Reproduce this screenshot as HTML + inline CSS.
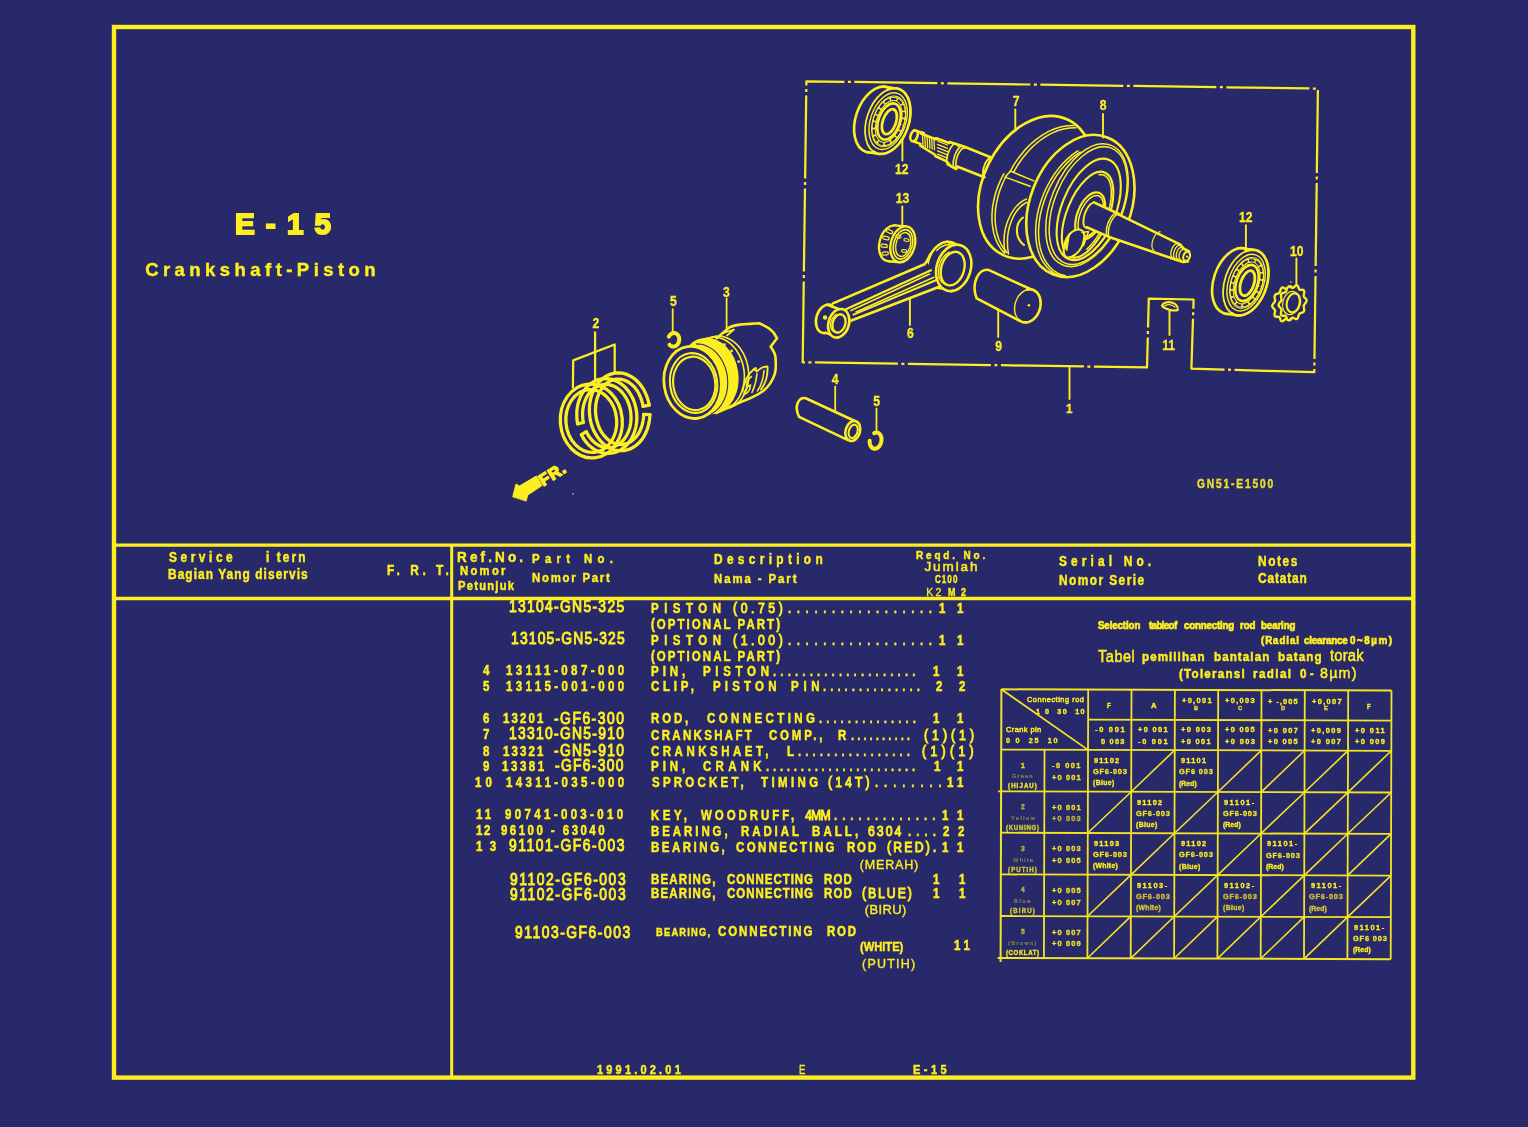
<!DOCTYPE html>
<html><head><meta charset="utf-8"><title>E-15 Crankshaft-Piston</title>
<style>
html,body{margin:0;padding:0;}
body{width:1528px;height:1127px;background:#28296a;position:relative;overflow:hidden;font-family:"Liberation Sans",sans-serif;color:#fdef1f;}
.t{position:absolute;white-space:pre;line-height:1;font-weight:bold;transform-origin:0 0;color:#fdef1f;}
svg{position:absolute;left:0;top:0;}
#wrap{position:absolute;left:0;top:0;width:1528px;height:1127px;background:#28296a;filter:blur(0.45px);}
</style></head><body>
<div id="wrap">
<svg width="1528" height="1127" viewBox="0 0 1528 1127" fill="none" stroke="#fdef1f" stroke-linecap="round" stroke-linejoin="round">
<g id="frame" stroke-linecap="butt" stroke-linejoin="miter">
<rect x="114" y="27" width="1299.3" height="1050.6" stroke-width="4.4"/>
<line x1="114" y1="545.1" x2="1413" y2="545.1" stroke-width="3.2"/>
<line x1="114" y1="598.5" x2="1413" y2="598.5" stroke-width="3.4"/>
<line x1="451.7" y1="545" x2="451.7" y2="1077" stroke-width="3"/>
</g>
<g id="seltable" transform="rotate(0.17 1196 824)" opacity="0.95" stroke-linecap="butt"><line x1="1001" y1="689.9" x2="1001" y2="962.6" stroke-width="2.0"/><line x1="1044.3" y1="750.2" x2="1044.3" y2="958.6" stroke-width="1.8"/><line x1="1087.8" y1="689.9" x2="1087.8" y2="958.6" stroke-width="1.8"/><line x1="1131.1" y1="689.9" x2="1131.1" y2="958.6" stroke-width="1.8"/><line x1="1174.5" y1="689.9" x2="1174.5" y2="958.6" stroke-width="1.8"/><line x1="1217.8" y1="689.9" x2="1217.8" y2="958.6" stroke-width="1.8"/><line x1="1261.1" y1="689.9" x2="1261.1" y2="958.6" stroke-width="1.8"/><line x1="1304.4" y1="689.9" x2="1304.4" y2="958.6" stroke-width="1.8"/><line x1="1347.8" y1="689.9" x2="1347.8" y2="958.6" stroke-width="1.8"/><line x1="1391.1" y1="689.9" x2="1391.1" y2="958.6" stroke-width="1.8"/><line x1="1001" y1="689.9" x2="1391.1" y2="689.9" stroke-width="2.0"/><line x1="1087.8" y1="720.0" x2="1391.1" y2="720.0" stroke-width="1.8"/><line x1="1001" y1="750.2" x2="1391.1" y2="750.2" stroke-width="1.8"/><line x1="998" y1="791.9" x2="1391.1" y2="791.9" stroke-width="1.8"/><line x1="1001" y1="833.3" x2="1391.1" y2="833.3" stroke-width="1.8"/><line x1="1001" y1="875.0" x2="1391.1" y2="875.0" stroke-width="1.8"/><line x1="1001" y1="916.6" x2="1391.1" y2="916.6" stroke-width="1.8"/><line x1="998" y1="958.6" x2="1391.1" y2="958.6" stroke-width="2.0"/><line x1="1001" y1="689.9" x2="1087.8" y2="750.2" stroke-width="1.8"/><line x1="1131.1" y1="791.9" x2="1174.5" y2="750.2" stroke-width="1.6"/><line x1="1217.8" y1="791.9" x2="1261.1" y2="750.2" stroke-width="1.6"/><line x1="1261.1" y1="791.9" x2="1304.4" y2="750.2" stroke-width="1.6"/><line x1="1304.4" y1="791.9" x2="1347.8" y2="750.2" stroke-width="1.6"/><line x1="1347.8" y1="791.9" x2="1391.1" y2="750.2" stroke-width="1.6"/><line x1="1087.8" y1="833.3" x2="1131.1" y2="791.9" stroke-width="1.6"/><line x1="1174.5" y1="833.3" x2="1217.8" y2="791.9" stroke-width="1.6"/><line x1="1261.1" y1="833.3" x2="1304.4" y2="791.9" stroke-width="1.6"/><line x1="1304.4" y1="833.3" x2="1347.8" y2="791.9" stroke-width="1.6"/><line x1="1347.8" y1="833.3" x2="1391.1" y2="791.9" stroke-width="1.6"/><line x1="1131.1" y1="875.0" x2="1174.5" y2="833.3" stroke-width="1.6"/><line x1="1217.8" y1="875.0" x2="1261.1" y2="833.3" stroke-width="1.6"/><line x1="1304.4" y1="875.0" x2="1347.8" y2="833.3" stroke-width="1.6"/><line x1="1347.8" y1="875.0" x2="1391.1" y2="833.3" stroke-width="1.6"/><line x1="1087.8" y1="916.6" x2="1131.1" y2="875.0" stroke-width="1.6"/><line x1="1174.5" y1="916.6" x2="1217.8" y2="875.0" stroke-width="1.6"/><line x1="1261.1" y1="916.6" x2="1304.4" y2="875.0" stroke-width="1.6"/><line x1="1347.8" y1="916.6" x2="1391.1" y2="875.0" stroke-width="1.6"/><line x1="1087.8" y1="958.6" x2="1131.1" y2="916.6" stroke-width="1.6"/><line x1="1131.1" y1="958.6" x2="1174.5" y2="916.6" stroke-width="1.6"/><line x1="1174.5" y1="958.6" x2="1217.8" y2="916.6" stroke-width="1.6"/><line x1="1217.8" y1="958.6" x2="1261.1" y2="916.6" stroke-width="1.6"/><line x1="1261.1" y1="958.6" x2="1304.4" y2="916.6" stroke-width="1.6"/><line x1="1304.4" y1="958.6" x2="1347.8" y2="916.6" stroke-width="1.6"/></g>
<g id="drawing"><path d="M914.0 130.3 L924.0 133.2 L922.0 132.6 L920.5 133.4 L935.9 139.2 L936.2 138.3 L949.2 143.0 L949.6 142.0 L963.9 146.5 L991.8 157.8 L982.5 176.5 L957.2 166.5 L956.2 169.0 L950.6 166.2 L946.6 161.4 L935.3 156.0 L934.6 154.5 L920.0 145.4 L920.4 143.9 L914.0 141.5Z" stroke-width="2.60" fill="#28296a"/>
<ellipse cx="914.0" cy="135.9" rx="3.4" ry="5.6" transform="rotate(19.4 914.0 135.9)" stroke-width="2.60" fill="#28296a"/>
<path d="M922.5 134.6 L923.0 146.1" stroke-width="1.30"/>
<path d="M924.8 135.5 L925.3 146.8" stroke-width="1.30"/>
<path d="M927.1 136.5 L927.6 147.6" stroke-width="1.30"/>
<path d="M929.4 137.4 L929.9 148.3" stroke-width="1.30"/>
<path d="M931.7 138.4 L932.2 149.1" stroke-width="1.30"/>
<path d="M934.0 139.3 L934.5 149.8" stroke-width="1.30"/>
<path d="M937.5 141.0 L947.5 145.0" stroke-width="1.30"/>
<path d="M937.5 144.3 L947.5 148.3" stroke-width="1.30"/>
<path d="M937.5 147.6 L947.5 151.6" stroke-width="1.30"/>
<path d="M937.5 150.9 L947.5 154.9" stroke-width="1.30"/>
<path d="M937.5 154.2 L947.5 158.2" stroke-width="1.30"/>
<path d="M948.2 165.3 L947.8 165.1 L947.5 164.8 L947.2 164.4 L947.0 163.9 L946.8 163.2 L946.7 162.5 L946.6 161.7 L946.6 160.8 L946.7 159.8 L946.8 158.8 L947.0 157.7 L947.2 156.6 L947.5 155.5 L947.8 154.3 L948.2 153.2 L948.6 152.0 L949.1 150.9 L949.6 149.9 L950.1 148.9 L950.6 147.9 L951.2 147.0 L951.8 146.3 L952.3 145.6 L952.9 144.9 L953.4 144.4 L954.0 144.1 L954.5 143.8 L955.0 143.6 L955.4 143.6 L955.8 143.7" stroke-width="1.65"/>
<path d="M954.8 167.6 L954.4 167.4 L954.1 167.1 L953.8 166.6 L953.6 166.1 L953.4 165.5 L953.3 164.8 L953.2 164.0 L953.2 163.1 L953.3 162.1 L953.4 161.1 L953.5 160.1 L953.8 159.0 L954.0 157.9 L954.4 156.8 L954.7 155.7 L955.1 154.6 L955.6 153.5 L956.1 152.5 L956.6 151.5 L957.1 150.6 L957.6 149.7 L958.2 148.9 L958.7 148.3 L959.3 147.7 L959.8 147.2 L960.4 146.8 L960.9 146.5 L961.4 146.4 L961.8 146.4 L962.2 146.4" stroke-width="1.65"/>
<path d="M957.5 167.8 L957.2 167.6 L956.8 167.3 L956.5 166.9 L956.3 166.4 L956.1 165.8 L956.0 165.2 L955.9 164.4 L955.9 163.6 L955.9 162.7 L956.0 161.8 L956.1 160.8 L956.3 159.8 L956.6 158.7 L956.9 157.7 L957.2 156.7 L957.6 155.7 L958.0 154.7 L958.5 153.7 L959.0 152.8 L959.5 151.9 L960.0 151.2 L960.5 150.4 L961.0 149.8 L961.6 149.3 L962.1 148.8 L962.6 148.5 L963.1 148.3 L963.6 148.1 L964.0 148.1 L964.5 148.2" stroke-width="1.65"/>
<circle cx="958" cy="146.3" r="0.9" fill="#fdef1f" stroke="none"/>
<ellipse cx="1035.4" cy="187.3" rx="52.3" ry="75.0" transform="rotate(25.8 1035.4 187.3)" stroke-width="2.60" fill="#28296a"/>
<path d="M985.0 177.4 L984.6 177.2 L984.2 176.9 L983.9 176.5 L983.6 175.9 L983.4 175.3 L983.2 174.6 L983.1 173.9 L983.0 173.0 L983.0 172.1 L983.1 171.2 L983.2 170.2 L983.4 169.1 L983.6 168.1 L983.9 167.0 L984.3 166.0 L984.6 165.0 L985.1 164.0 L985.5 163.0 L986.0 162.1 L986.6 161.3 L987.1 160.5 L987.7 159.8 L988.3 159.1 L988.8 158.6 L989.4 158.2 L990.0 157.8 L990.5 157.6 L991.0 157.5 L991.5 157.5 L992.0 157.6" stroke-width="1.89"/>
<path d="M1010.0 171.9 L1014.1 164.4 L1018.9 157.4 L1024.1 150.9 L1029.7 145.0 L1035.7 139.8 L1041.9 135.3 L1048.3 131.6 L1054.8 128.7 L1061.3 126.7 L1067.8 125.7 L1074.1 125.6" stroke-width="1.53"/>
<path d="M1013.4 172.5 L1017.6 165.3 L1022.2 158.5 L1027.4 152.2 L1032.8 146.5 L1038.7 141.5 L1044.7 137.2 L1050.9 133.6 L1057.3 130.8 L1063.6 128.9 L1069.8 127.9 L1075.9 127.8" stroke-width="1.53"/>
<path d="M1010.5 171.1 L1033.9 180.9" stroke-width="1.53"/>
<path d="M1010.5 171.1 L1005.2 177.1 L1030.1 186.2" stroke-width="1.53"/>
<path d="M1004.4 253.2 L1001.0 249.1 L998.1 244.4 L995.7 239.2 L993.9 233.5 L992.7 227.5 L992.0 221.1 L992.0 214.4 L992.5 207.6 L993.7 200.7 L995.4 193.8 L997.7 186.9 L1000.5 180.2 L1003.8 173.8" stroke-width="1.53"/>
<path d="M1007.2 252.8 L1004.0 248.8 L1001.1 244.3 L998.8 239.3 L997.1 233.8 L995.9 227.9 L995.2 221.7 L995.1 215.3 L995.6 208.7 L996.7 202.0 L998.3 195.3 L1000.5 188.6 L1003.2 182.0 L1006.3 175.7" stroke-width="1.53"/>
<path d="M1026.5 199.0 C1012 205 1000.5 228 1005 252.5" stroke-width="1.53"/>
<path d="M1027 202.3 C1014.5 208 1004 229 1008.5 254" stroke-width="1.53"/>
<path d="M1023 217.5 C1015 223 1014.5 238 1024 245" stroke-width="2.12"/>
<ellipse cx="1080.4" cy="206.0" rx="50.3" ry="73.7" transform="rotate(21.5 1080.4 206.0)" stroke-width="2.60" fill="#28296a"/>
<path d="M1063.3 276.6 L1058.8 275.3 L1054.5 273.4 L1050.6 270.7 L1047.0 267.3 L1043.9 263.3 L1041.2 258.7 L1039.1 253.5 L1037.4 247.9 L1036.3 241.8 L1035.7 235.4 L1035.7 228.7 L1036.2 221.8 L1037.3 214.8 L1038.9 207.7 L1041.1 200.7 L1043.7 193.7 L1046.8 187.0 L1050.3 180.5 L1054.2 174.3 L1058.5 168.6 L1063.0 163.3 L1067.8 158.6 L1072.8 154.4 L1077.9 150.9" stroke-width="1.53"/>
<path d="M1065.4 275.8 L1061.0 274.6 L1056.8 272.7 L1053.0 270.0 L1049.5 266.7 L1046.5 262.8 L1043.9 258.3 L1041.8 253.2 L1040.2 247.7 L1039.1 241.7 L1038.6 235.4 L1038.6 228.8 L1039.2 222.0 L1040.2 215.1 L1041.9 208.1 L1044.0 201.2 L1046.6 194.4 L1049.6 187.7 L1053.1 181.3 L1056.9 175.2 L1061.1 169.6 L1065.6 164.4 L1070.3 159.7 L1075.1 155.6 L1080.2 152.1" stroke-width="1.53"/>
<ellipse cx="1087.0" cy="205.2" rx="36.0" ry="64.5" transform="rotate(22 1087.0 205.2)" stroke-width="1.53"/>
<ellipse cx="1088.2" cy="205.6" rx="33.8" ry="62.0" transform="rotate(22 1088.2 205.6)" stroke-width="1.53"/>
<ellipse cx="1088.7" cy="209.4" rx="27.0" ry="53.5" transform="rotate(22 1088.7 209.4)" stroke-width="2.12"/>
<ellipse cx="1087.6" cy="214.6" rx="20.8" ry="45.5" transform="rotate(22 1087.6 214.6)" stroke-width="2.12"/>
<path d="M1099.0 174.8 L1101.1 174.6 L1103.1 174.9 L1105.0 175.7 L1106.6 176.9 L1108.0 178.6 L1109.2 180.7 L1110.1 183.2 L1110.8 186.1 L1111.2 189.3 L1111.3 192.8 L1111.2 196.5 L1110.8 200.5 L1110.1 204.6 L1109.2 208.8 L1108.0 213.1 L1106.6 217.5 L1104.9 221.8 L1103.1 226.0 L1101.1 230.1 L1098.9 233.9 L1096.7 237.6 L1094.3 241.0 L1091.8 244.1 L1089.3 246.8 L1086.8 249.2" stroke-width="1.53"/>
<ellipse cx="1090.2" cy="215.7" rx="13.0" ry="24.5" transform="rotate(21 1090.2 215.7)" stroke-width="2.12"/>
<ellipse cx="1090.8" cy="215.9" rx="10.8" ry="21.5" transform="rotate(21 1090.8 215.9)" stroke-width="1.53"/>
<path d="M1064.2 246 C1066 235 1073.5 229 1079.5 229.5 C1085 230.5 1085.5 237 1082.5 245 C1079.5 253 1071 258.5 1067 257.5 C1063.5 256 1063.5 250 1064.2 246Z" stroke-width="2.12" fill="#28296a"/>
<path d="M1082 232.5 L1088.5 231.5 L1083.5 245.5" stroke-width="1.53"/>
<path d="M1064.6 246 L1069.5 233.5 L1066.8 250.5Z" stroke-width="1.18" fill="#fdef1f"/>
<path d="M1093.9 202.4 L1119.4 214.2 L1180.5 244.7 L1183.5 248.5 L1189.0 251.5 L1191.0 257.0 L1188.0 261.5 L1183.0 262.0 L1176.0 259.8 L1171.7 258.3 L1110.6 237.6 L1086.8 227.3" stroke-width="0.00" fill="#28296a"/>
<ellipse cx="1090.2" cy="215.2" rx="5.6" ry="13.2" transform="rotate(19.4 1090.2 215.2)" stroke-width="1.89" fill="#28296a"/>
<path d="M1093.9 202.4 L1119.4 214.2 L1110.6 237.6 L1086.8 227.3" stroke-width="0.00" fill="#28296a"/>
<path d="M1093.9 202.4 L1119.4 214.2" stroke-width="2.60"/>
<path d="M1086.8 227.3 L1110.6 237.6" stroke-width="2.60"/>
<path d="M1119.4 214.8 L1180.5 244.7 L1183.5 248.5 L1189.0 251.5" stroke-width="2.60"/>
<path d="M1110.6 237.6 L1171.7 258.3 L1176.0 259.8 L1183.0 262.0 L1188.0 261.5" stroke-width="2.60"/>
<path d="M1110.5 237.9 L1110.0 237.7 L1109.6 237.3 L1109.3 236.8 L1108.9 236.2 L1108.7 235.5 L1108.5 234.7 L1108.4 233.8 L1108.4 232.8 L1108.4 231.8 L1108.5 230.7 L1108.6 229.5 L1108.9 228.3 L1109.1 227.1 L1109.5 225.9 L1109.9 224.6 L1110.3 223.4 L1110.8 222.3 L1111.4 221.1 L1112.0 220.1 L1112.6 219.1 L1113.2 218.1 L1113.8 217.3 L1114.5 216.6 L1115.1 215.9 L1115.8 215.4 L1116.4 215.0 L1117.0 214.8 L1117.6 214.6 L1118.2 214.6 L1118.7 214.7" stroke-width="1.53"/>
<path d="M1108.5 236.9 L1108.0 236.7 L1107.6 236.3 L1107.3 235.8 L1106.9 235.2 L1106.7 234.5 L1106.5 233.7 L1106.4 232.8 L1106.4 231.8 L1106.4 230.8 L1106.5 229.7 L1106.6 228.5 L1106.9 227.3 L1107.1 226.1 L1107.5 224.9 L1107.9 223.6 L1108.3 222.4 L1108.8 221.3 L1109.4 220.1 L1110.0 219.1 L1110.6 218.1 L1111.2 217.1 L1111.8 216.3 L1112.5 215.6 L1113.1 214.9 L1113.8 214.4 L1114.4 214.0 L1115.0 213.8 L1115.6 213.6 L1116.2 213.6 L1116.7 213.7" stroke-width="1.53"/>
<path d="M1153.8 250.1 L1153.4 249.9 L1153.1 249.6 L1152.7 249.2 L1152.5 248.7 L1152.3 248.1 L1152.1 247.5 L1152.0 246.8 L1151.9 246.0 L1151.9 245.2 L1152.0 244.3 L1152.1 243.4 L1152.2 242.5 L1152.5 241.5 L1152.7 240.6 L1153.0 239.6 L1153.4 238.7 L1153.8 237.8 L1154.2 236.9 L1154.7 236.0 L1155.2 235.3 L1155.7 234.5 L1156.2 233.9 L1156.7 233.3 L1157.3 232.9 L1157.8 232.5 L1158.3 232.2 L1158.8 232.0 L1159.3 231.9 L1159.8 231.8 L1160.2 231.9" stroke-width="1.18"/>
<path d="M1172.1 257.4 L1171.8 257.2 L1171.6 257.0 L1171.4 256.8 L1171.2 256.4 L1171.0 256.0 L1170.9 255.5 L1170.8 255.0 L1170.8 254.4 L1170.8 253.8 L1170.9 253.1 L1170.9 252.5 L1171.1 251.8 L1171.2 251.0 L1171.4 250.3 L1171.7 249.6 L1171.9 248.9 L1172.2 248.2 L1172.5 247.6 L1172.9 246.9 L1173.2 246.3 L1173.6 245.8 L1174.0 245.3 L1174.4 244.9 L1174.8 244.5 L1175.2 244.2 L1175.5 244.0 L1175.9 243.8 L1176.3 243.8 L1176.6 243.7 L1176.9 243.8" stroke-width="1.30"/>
<path d="M1174.9 258.1 L1174.6 258.0 L1174.4 257.8 L1174.1 257.5 L1173.9 257.2 L1173.8 256.8 L1173.7 256.4 L1173.6 255.9 L1173.5 255.3 L1173.5 254.8 L1173.6 254.1 L1173.6 253.5 L1173.7 252.9 L1173.9 252.2 L1174.1 251.6 L1174.3 250.9 L1174.5 250.3 L1174.8 249.6 L1175.1 249.0 L1175.4 248.5 L1175.7 247.9 L1176.1 247.4 L1176.5 247.0 L1176.8 246.6 L1177.2 246.3 L1177.6 246.0 L1178.0 245.8 L1178.3 245.7 L1178.7 245.6 L1179.0 245.6 L1179.3 245.7" stroke-width="1.30"/>
<path d="M1177.7 258.9 L1177.4 258.7 L1177.2 258.5 L1176.9 258.3 L1176.7 258.0 L1176.6 257.6 L1176.4 257.2 L1176.3 256.7 L1176.3 256.2 L1176.2 255.7 L1176.3 255.2 L1176.3 254.6 L1176.4 254.0 L1176.5 253.4 L1176.7 252.8 L1176.9 252.2 L1177.1 251.6 L1177.3 251.0 L1177.6 250.5 L1177.9 250.0 L1178.2 249.5 L1178.6 249.1 L1178.9 248.7 L1179.3 248.3 L1179.6 248.0 L1180.0 247.8 L1180.4 247.6 L1180.7 247.5 L1181.1 247.5 L1181.4 247.5 L1181.7 247.5" stroke-width="1.30"/>
<path d="M1180.5 259.6 L1180.2 259.5 L1180.0 259.3 L1179.7 259.0 L1179.5 258.7 L1179.3 258.4 L1179.2 258.0 L1179.1 257.6 L1179.0 257.2 L1179.0 256.7 L1179.0 256.2 L1179.0 255.7 L1179.1 255.1 L1179.2 254.6 L1179.3 254.0 L1179.5 253.5 L1179.7 253.0 L1179.9 252.5 L1180.2 252.0 L1180.4 251.5 L1180.7 251.1 L1181.1 250.7 L1181.4 250.4 L1181.7 250.0 L1182.1 249.8 L1182.4 249.6 L1182.8 249.4 L1183.1 249.3 L1183.5 249.3 L1183.8 249.3 L1184.1 249.4" stroke-width="1.30"/>
<ellipse cx="1186.6" cy="256.3" rx="3.2" ry="4.8" transform="rotate(19.4 1186.6 256.3)" stroke-width="2.12"/>
<circle cx="1187" cy="256.6" r="1.1" fill="#fdef1f" stroke="none"/>
<path d="M1015.3 109.5 L1015.3 128.5" stroke-width="1.89"/>
<path d="M1103.0 114.0 L1103.0 137.5" stroke-width="1.89"/>
<g transform="translate(1016,106) scale(0.88,1)"><text x="0" y="0" font-size="13.8" text-anchor="middle" font-family="Liberation Sans, sans-serif" font-weight="bold" fill="#fdef1f" stroke="#fdef1f" stroke-width="0.3">7</text></g>
<g transform="translate(1103,109.5) scale(0.88,1)"><text x="0" y="0" font-size="13.8" text-anchor="middle" font-family="Liberation Sans, sans-serif" font-weight="bold" fill="#fdef1f" stroke="#fdef1f" stroke-width="0.3">8</text></g>
<path d="M806.4 81.3 L1317.9 88.6 L1314.3 372.2 L1191.4 368.6 L1193.6 299.5 L1148.8 298.6 L1147.0 367.4 L802.7 362.3 Z" stroke-width="2.24" stroke-dasharray="83 3.5 3 3.5" stroke-linecap="butt" stroke-dashoffset="45"/>
<path d="M1069.5 367.8 L1069.5 399.0" stroke-width="1.89"/>
<g transform="translate(1069.3,412.6) scale(0.88,1)"><text x="0" y="0" font-size="13.4" text-anchor="middle" font-family="Liberation Sans, sans-serif" font-weight="bold" fill="#fdef1f" stroke="#fdef1f" stroke-width="0.3">1</text></g>
<ellipse cx="876.8" cy="119.5" rx="21.0" ry="34.0" transform="rotate(19 876.8 119.5)" stroke-width="2.60" fill="#28296a"/>
<path d="M883.5 86.6 L894.5 88.2 L879.6 153.9 L868.6 152.3Z" stroke-width="0.00" fill="#28296a"/>
<path d="M883.5 86.6 L894.5 88.2" stroke-width="2.60"/>
<path d="M868.6 152.3 L879.6 153.9" stroke-width="2.60"/>
<ellipse cx="887.8" cy="121.1" rx="21.0" ry="34.0" transform="rotate(19 887.8 121.1)" stroke-width="1.77" fill="#28296a"/>
<path d="M887.5 89.8 L889.9 88.9 L892.3 88.4 L894.6 88.2 L896.9 88.4 L899.1 89.0 L901.1 90.0 L903.0 91.3 L904.7 92.9 L906.2 94.9 L907.5 97.1 L908.6 99.6 L909.5 102.4 L910.1 105.4 L910.4 108.6 L910.5 111.9 L910.4 115.3 L909.9 118.7 L909.3 122.3 L908.4 125.7 L907.2 129.2 L905.8 132.5 L904.3 135.7 L902.5 138.8 L900.6 141.6 L898.5 144.3 L896.3 146.6 L894.0 148.7 L891.6 150.4 L889.2 151.8 L886.8 152.9 L884.4 153.6 L882.0 153.9 L879.7 153.9 L877.5 153.5 L875.4 152.7 L873.5 151.6" stroke-width="2.60"/>
<ellipse cx="888.1" cy="121.1" rx="17.6" ry="29.3" transform="rotate(19 888.1 121.1)" stroke-width="1.42"/>
<ellipse cx="888.7" cy="121.4" rx="13.7" ry="23.4" transform="rotate(19 888.7 121.4)" stroke-width="4.25"/>
<ellipse cx="888.7" cy="121.4" rx="13.7" ry="23.4" transform="rotate(19 888.7 121.4)" stroke="#28296a" stroke-width="2.36" stroke-dasharray="3.4 3.6"/>
<ellipse cx="888.7" cy="121.4" rx="15.6" ry="26.3" transform="rotate(19 888.7 121.4)" stroke-width="1.06"/>
<ellipse cx="889.0" cy="121.5" rx="10.6" ry="18.8" transform="rotate(19 889.0 121.5)" stroke-width="2.60"/>
<ellipse cx="889.4" cy="121.7" rx="6.6" ry="13.0" transform="rotate(19 889.4 121.7)" stroke-width="2.83"/>
<path d="M902.4 138.5 L902.4 160.5" stroke-width="1.89"/>
<g transform="translate(901.8,173.8) scale(0.88,1)"><text x="0" y="0" font-size="13.8" text-anchor="middle" font-family="Liberation Sans, sans-serif" font-weight="bold" fill="#fdef1f" stroke="#fdef1f" stroke-width="0.3">12</text></g>
<ellipse cx="1234.8" cy="281.0" rx="21.0" ry="34.0" transform="rotate(19 1234.8 281.0)" stroke-width="2.60" fill="#28296a"/>
<path d="M1241.5 248.1 L1252.5 249.7 L1237.6 315.4 L1226.6 313.8Z" stroke-width="0.00" fill="#28296a"/>
<path d="M1241.5 248.1 L1252.5 249.7" stroke-width="2.60"/>
<path d="M1226.6 313.8 L1237.6 315.4" stroke-width="2.60"/>
<ellipse cx="1245.8" cy="282.6" rx="21.0" ry="34.0" transform="rotate(19 1245.8 282.6)" stroke-width="1.77" fill="#28296a"/>
<path d="M1245.5 251.3 L1247.9 250.4 L1250.3 249.9 L1252.6 249.7 L1254.9 249.9 L1257.1 250.5 L1259.1 251.5 L1261.0 252.8 L1262.7 254.4 L1264.2 256.4 L1265.5 258.6 L1266.6 261.1 L1267.5 263.9 L1268.1 266.9 L1268.4 270.1 L1268.5 273.4 L1268.4 276.8 L1267.9 280.2 L1267.3 283.8 L1266.4 287.2 L1265.2 290.7 L1263.8 294.0 L1262.3 297.2 L1260.5 300.3 L1258.6 303.1 L1256.5 305.8 L1254.3 308.1 L1252.0 310.2 L1249.6 311.9 L1247.2 313.3 L1244.8 314.4 L1242.4 315.1 L1240.0 315.4 L1237.7 315.4 L1235.5 315.0 L1233.4 314.2 L1231.5 313.1" stroke-width="2.60"/>
<ellipse cx="1246.1" cy="282.6" rx="17.6" ry="29.3" transform="rotate(19 1246.1 282.6)" stroke-width="1.42"/>
<ellipse cx="1246.7" cy="282.9" rx="13.7" ry="23.4" transform="rotate(19 1246.7 282.9)" stroke-width="4.25"/>
<ellipse cx="1246.7" cy="282.9" rx="13.7" ry="23.4" transform="rotate(19 1246.7 282.9)" stroke="#28296a" stroke-width="2.36" stroke-dasharray="3.4 3.6"/>
<ellipse cx="1246.7" cy="282.9" rx="15.6" ry="26.3" transform="rotate(19 1246.7 282.9)" stroke-width="1.06"/>
<ellipse cx="1247.0" cy="283.0" rx="10.6" ry="18.8" transform="rotate(19 1247.0 283.0)" stroke-width="2.60"/>
<ellipse cx="1247.4" cy="283.2" rx="6.6" ry="13.0" transform="rotate(19 1247.4 283.2)" stroke-width="2.83"/>
<path d="M1245.9 225.3 L1245.9 249.0" stroke-width="1.89"/>
<g transform="translate(1245.8,221.9) scale(0.88,1)"><text x="0" y="0" font-size="13.8" text-anchor="middle" font-family="Liberation Sans, sans-serif" font-weight="bold" fill="#fdef1f" stroke="#fdef1f" stroke-width="0.3">12</text></g>
<ellipse cx="891.5" cy="243.3" rx="12.0" ry="18.3" transform="rotate(15 891.5 243.3)" stroke-width="2.36" fill="#28296a"/>
<path d="M894.2 225.4 L905.5 226.4 L900.1 262.2 L888.8 261.2Z" stroke-width="0.00" fill="#28296a"/>
<path d="M894.2 225.4 L905.5 226.4" stroke-width="2.36"/>
<path d="M888.8 261.2 L900.1 262.2" stroke-width="2.36"/>
<ellipse cx="902.8" cy="244.3" rx="12.0" ry="18.3" transform="rotate(15 902.8 244.3)" stroke-width="2.36" fill="#28296a"/>
<ellipse cx="903.0" cy="244.4" rx="9.3" ry="15.0" transform="rotate(15 903.0 244.4)" stroke-width="1.65"/>
<ellipse cx="903.2" cy="244.5" rx="7.2" ry="12.2" transform="rotate(15 903.2 244.5)" stroke-width="1.42"/>
<rect x="886.3" y="230.0" width="6.4" height="3" rx="1.5" transform="rotate(22 889.5 231.5)" stroke-width="1.3" fill="#28296a"/>
<rect x="882.8" y="236.5" width="6.4" height="3" rx="1.5" transform="rotate(14 886.0 238.0)" stroke-width="1.3" fill="#28296a"/>
<rect x="881.0" y="244.3" width="6.4" height="3" rx="1.5" transform="rotate(6 884.2 245.8)" stroke-width="1.3" fill="#28296a"/>
<rect x="882.0" y="252.0" width="6.4" height="3" rx="1.5" transform="rotate(-6 885.2 253.5)" stroke-width="1.3" fill="#28296a"/>
<rect x="903.9" y="238.7" width="5.2" height="2.6" rx="1.3" transform="rotate(10 906.5 240.0)" stroke-width="1.1"/>
<rect x="901.6" y="249.7" width="5.2" height="2.6" rx="1.3" transform="rotate(4 904.2 251.0)" stroke-width="1.1"/>
<rect x="895.9" y="235.2" width="5.2" height="2.6" rx="1.3" transform="rotate(20 898.5 236.5)" stroke-width="1.1"/>
<path d="M902.3 206.4 L902.3 225.5" stroke-width="1.89"/>
<g transform="translate(902.4,202.6) scale(0.88,1)"><text x="0" y="0" font-size="13.8" text-anchor="middle" font-family="Liberation Sans, sans-serif" font-weight="bold" fill="#fdef1f" stroke="#fdef1f" stroke-width="0.3">13</text></g>
<ellipse cx="944.7" cy="265.0" rx="17.0" ry="23.7" transform="rotate(17 944.7 265.0)" stroke-width="2.60" fill="#28296a"/>
<ellipse cx="826.5" cy="318.8" rx="10.2" ry="14.6" transform="rotate(17 826.5 318.8)" stroke-width="2.60" fill="#28296a"/>
<path d="M927.5 262.5 L832.5 303.2 L842.0 334.0 L849.5 321.5 L938.5 286.0Z" stroke-width="0.00" fill="#28296a"/>
<path d="M930.5 254 C928 259 927 262 924.5 264.2 L833 303.4" stroke-width="2.60"/>
<path d="M940 286.5 L849.5 321.3" stroke-width="2.60"/>
<path d="M931 270.3 L846 309.3" stroke-width="2.24"/>
<path d="M936.5 280.0 L853.5 314.6" stroke-width="2.01"/>
<path d="M929.5 274.0 L851 310.6" stroke-width="1.65"/>
<path d="M934 277.2 L856 312.0" stroke-width="1.53"/>
<path d="M947.2 241.8 L956.2 244.7 L951.2 291.1 L942.2 288.2Z" stroke-width="0.00" fill="#28296a"/>
<path d="M947.2 241.8 L956.2 244.7" stroke-width="2.60"/>
<path d="M942.2 288.2 L951.2 291.1" stroke-width="2.60"/>
<ellipse cx="953.7" cy="267.9" rx="17.0" ry="23.7" transform="rotate(17 953.7 267.9)" stroke-width="2.60" fill="#28296a"/>
<ellipse cx="952.7" cy="268.6" rx="11.4" ry="17.2" transform="rotate(17 952.7 268.6)" stroke-width="2.36"/>
<path d="M944.5 284.1 L943.5 283.5 L942.5 282.7 L941.6 281.8 L940.8 280.7 L940.1 279.5 L939.5 278.2 L939.1 276.7 L938.8 275.1 L938.6 273.5 L938.5 271.8 L938.6 270.1 L938.8 268.3 L939.1 266.5 L939.6 264.8 L940.1 263.1 L940.8 261.4 L941.6 259.8 L942.5 258.3 L943.5 256.9 L944.6 255.7 L945.7 254.5 L946.9 253.6 L948.2 252.7 L949.4 252.1" stroke-width="1.42"/>
<path d="M936.8 250.5 C941 246 946 244.5 950 244.8" stroke-width="1.42"/>
<circle cx="937.6" cy="278.2" r="1.1" fill="#fdef1f" stroke="none"/>
<path d="M827.2 304.7 L839.4 309.2 L838.0 337.4 L825.8 332.9Z" stroke-width="0.00" fill="#28296a"/>
<path d="M827.2 304.7 L839.4 309.2" stroke-width="2.60"/>
<path d="M825.8 332.9 L838.0 337.4" stroke-width="2.60"/>
<ellipse cx="838.7" cy="323.3" rx="10.2" ry="14.6" transform="rotate(17 838.7 323.3)" stroke-width="2.60" fill="#28296a"/>
<ellipse cx="839.0" cy="323.5" rx="6.3" ry="9.4" transform="rotate(17 839.0 323.5)" stroke-width="2.36"/>
<path d="M833.4 331.5 L832.9 331.1 L832.4 330.6 L831.9 330.0 L831.5 329.4 L831.2 328.6 L830.9 327.8 L830.7 327.0 L830.6 326.1 L830.6 325.2 L830.6 324.2 L830.7 323.2 L830.9 322.3 L831.1 321.3 L831.5 320.3 L831.8 319.4 L832.3 318.6 L832.8 317.7 L833.3 317.0 L833.9 316.3 L834.5 315.6 L835.2 315.1 L835.9 314.7 L836.6 314.3" stroke-width="1.30"/>
<circle cx="825.1" cy="317.5" r="2.2" fill="#fdef1f" stroke="none"/>
<path d="M909.9 299.2 L909.9 325.0" stroke-width="1.89"/>
<g transform="translate(910.3,338.4) scale(0.88,1)"><text x="0" y="0" font-size="13.8" text-anchor="middle" font-family="Liberation Sans, sans-serif" font-weight="bold" fill="#fdef1f" stroke="#fdef1f" stroke-width="0.3">6</text></g>
<path d="M988.5 269.9 C979 268 970.5 281 976.7 298.4 L1019.6 320.8 L1032 289.8 Z" stroke-width="0.00" fill="#28296a"/>
<path d="M1032 289.8 L988.5 269.9 C979 268 970.5 283 976.7 298.4 L1019.6 320.8" stroke-width="2.60"/>
<ellipse cx="1027.6" cy="305.9" rx="12.6" ry="16.9" transform="rotate(17.4 1027.6 305.9)" stroke-width="1.42" fill="#28296a"/>
<path d="M1027.1 289.7 L1028.5 289.4 L1029.9 289.3 L1031.2 289.4 L1032.5 289.7 L1033.8 290.2 L1034.9 290.8 L1036.0 291.7 L1037.1 292.6 L1038.0 293.8 L1038.7 295.0 L1039.4 296.4 L1039.9 297.9 L1040.3 299.5 L1040.5 301.1 L1040.6 302.8 L1040.6 304.6 L1040.4 306.3 L1040.1 308.1 L1039.6 309.8 L1039.0 311.5 L1038.2 313.1 L1037.4 314.7 L1036.4 316.1 L1035.3 317.4 L1034.2 318.6 L1032.9 319.7 L1031.6 320.6 L1030.3 321.3 L1028.9 321.9 L1027.5 322.2 L1026.2 322.4 L1024.8 322.4 L1023.5 322.3 L1022.2 321.9 L1021.0 321.4 L1019.8 320.6 L1018.7 319.8" stroke-width="2.60"/>
<circle cx="1028.9" cy="305.3" r="1.3" fill="#fdef1f" stroke="none"/>
<path d="M998.2 310.9 L998.2 337.0" stroke-width="1.89"/>
<g transform="translate(998.7,350.6) scale(0.88,1)"><text x="0" y="0" font-size="13.8" text-anchor="middle" font-family="Liberation Sans, sans-serif" font-weight="bold" fill="#fdef1f" stroke="#fdef1f" stroke-width="0.3">9</text></g>
<path d="M1162 305.8 C1163 302.5 1168 301.2 1172.5 302.8 C1176 304 1178.2 307 1177.8 310 C1174 311.5 1165 309.5 1162 305.8Z" stroke-width="2.12"/>
<path d="M1164.5 305.8 C1168 304 1172 304.5 1175 307" stroke-width="1.30"/>
<path d="M1169.5 311.5 L1169.5 335.0" stroke-width="1.89"/>
<g transform="translate(1168.7,350) scale(0.88,1)"><text x="0" y="0" font-size="13.8" text-anchor="middle" font-family="Liberation Sans, sans-serif" font-weight="bold" fill="#fdef1f" stroke="#fdef1f" stroke-width="0.3">11</text></g>
<path d="M1290.6 286.3 L1290.9 286.5 L1291.2 286.7 L1291.5 287.0 L1291.7 287.4 L1291.9 287.9 L1292.1 288.4 L1292.2 288.9 L1292.4 289.3 L1292.6 289.7 L1292.7 290.1 L1292.9 290.4 L1293.2 290.6 L1293.4 290.8 L1293.7 290.9 L1294.1 290.9 L1294.5 290.9 L1294.9 290.9 L1295.3 290.8 L1295.8 290.8 L1296.2 290.8 L1296.6 290.9 L1297.0 291.1 L1297.3 291.3 L1297.5 291.6 L1297.7 292.0 L1297.8 292.4 L1297.9 292.9 L1297.8 293.4 L1297.8 294.0 L1297.7 294.6 L1297.6 295.1 L1297.5 295.6 L1297.4 296.1 L1297.3 296.6 L1297.3 297.0 L1297.4 297.4 L1297.5 297.7 L1297.7 298.0 L1298.0 298.3 L1298.3 298.6 L1298.6 298.9 L1298.9 299.2 L1299.2 299.5 L1299.5 299.9 L1299.8 300.3 L1300.0 300.7 L1300.1 301.1 L1300.2 301.5 L1300.1 302.0 L1300.0 302.5 L1299.8 303.0 L1299.5 303.4 L1299.2 303.9 L1298.9 304.3 L1298.6 304.7 L1298.2 305.1 L1298.0 305.5 L1297.7 305.8 L1297.5 306.2 L1297.4 306.6 L1297.3 307.0 L1297.3 307.4 L1297.4 307.8 L1297.4 308.3 L1297.5 308.8 L1297.6 309.3 L1297.7 309.9 L1297.8 310.4 L1297.8 310.9 L1297.8 311.4 L1297.7 311.9 L1297.5 312.3 L1297.2 312.7 L1296.9 313.1 L1296.5 313.3 L1296.1 313.5 L1295.7 313.7 L1295.3 313.8 L1294.8 313.9 L1294.4 314.0 L1294.0 314.2 L1293.7 314.3 L1293.4 314.5 L1293.1 314.7 L1292.9 315.0 L1292.7 315.4 L1292.5 315.8 L1292.3 316.3 L1292.2 316.8 L1292.0 317.3 L1291.8 317.9 L1291.6 318.4 L1291.4 318.9 L1291.1 319.3 L1290.8 319.6 L1290.5 319.9 L1290.1 320.0 L1289.7 320.1 L1289.3 320.0 L1288.9 319.9 L1288.6 319.8 L1288.2 319.5 L1287.8 319.3 L1287.4 319.1 L1287.1 318.9 L1286.8 318.7 L1286.5 318.7 L1286.2 318.7 L1285.9 318.8 L1285.5 318.9 L1285.2 319.2 L1284.9 319.5 L1284.5 319.8 L1284.1 320.2 L1283.8 320.5 L1283.4 320.8 L1283.0 321.1 L1282.6 321.2 L1282.2 321.3 L1281.8 321.3 L1281.5 321.1 L1281.2 320.9 L1280.9 320.6 L1280.7 320.2 L1280.5 319.7 L1280.3 319.2 L1280.2 318.7 L1280.0 318.3 L1279.8 317.9 L1279.7 317.5 L1279.5 317.2 L1279.2 317.0 L1279.0 316.8 L1278.7 316.7 L1278.3 316.7 L1277.9 316.7 L1277.5 316.7 L1277.1 316.8 L1276.6 316.8 L1276.2 316.8 L1275.8 316.7 L1275.4 316.5 L1275.1 316.3 L1274.9 316.0 L1274.7 315.6 L1274.6 315.2 L1274.5 314.7 L1274.6 314.2 L1274.6 313.6 L1274.7 313.0 L1274.8 312.5 L1274.9 312.0 L1275.0 311.5 L1275.1 311.0 L1275.1 310.6 L1275.0 310.2 L1274.9 309.9 L1274.7 309.6 L1274.4 309.3 L1274.1 309.0 L1273.8 308.7 L1273.5 308.4 L1273.2 308.1 L1272.9 307.7 L1272.6 307.3 L1272.4 306.9 L1272.3 306.5 L1272.2 306.1 L1272.3 305.6 L1272.4 305.1 L1272.6 304.6 L1272.9 304.2 L1273.2 303.7 L1273.5 303.3 L1273.8 302.9 L1274.2 302.5 L1274.4 302.1 L1274.7 301.8 L1274.9 301.4 L1275.0 301.0 L1275.1 300.6 L1275.1 300.2 L1275.0 299.8 L1275.0 299.3 L1274.9 298.8 L1274.8 298.3 L1274.7 297.7 L1274.6 297.2 L1274.6 296.7 L1274.6 296.2 L1274.7 295.7 L1274.9 295.3 L1275.2 294.9 L1275.5 294.5 L1275.9 294.3 L1276.3 294.1 L1276.7 293.9 L1277.1 293.8 L1277.6 293.7 L1278.0 293.6 L1278.4 293.4 L1278.7 293.3 L1279.0 293.1 L1279.3 292.9 L1279.5 292.6 L1279.7 292.2 L1279.9 291.8 L1280.1 291.3 L1280.2 290.8 L1280.4 290.3 L1280.6 289.7 L1280.8 289.2 L1281.0 288.7 L1281.3 288.3 L1281.6 288.0 L1281.9 287.7 L1282.3 287.6 L1282.7 287.5 L1283.1 287.6 L1283.5 287.7 L1283.8 287.8 L1284.2 288.1 L1284.6 288.3 L1285.0 288.5 L1285.3 288.7 L1285.6 288.9 L1285.9 288.9 L1286.2 288.9 L1286.5 288.8 L1286.9 288.7 L1287.2 288.4 L1287.5 288.1 L1287.9 287.8 L1288.3 287.4 L1288.6 287.1 L1289.0 286.8 L1289.4 286.5 L1289.8 286.4 L1290.2 286.3 L1290.6 286.3Z" stroke-width="2.36" fill="#28296a"/>
<path d="M1297.0 285.3 L1297.3 285.5 L1297.6 285.7 L1297.9 286.0 L1298.1 286.4 L1298.3 286.9 L1298.5 287.4 L1298.6 287.9 L1298.8 288.3 L1299.0 288.7 L1299.1 289.1 L1299.3 289.4 L1299.6 289.6 L1299.8 289.8 L1300.1 289.9 L1300.5 289.9 L1300.9 289.9 L1301.3 289.9 L1301.7 289.8 L1302.2 289.8 L1302.6 289.8 L1303.0 289.9 L1303.4 290.1 L1303.7 290.3 L1303.9 290.6 L1304.1 291.0 L1304.2 291.4 L1304.3 291.9 L1304.2 292.4 L1304.2 293.0 L1304.1 293.6 L1304.0 294.1 L1303.9 294.6 L1303.8 295.1 L1303.7 295.6 L1303.7 296.0 L1303.8 296.4 L1303.9 296.7 L1304.1 297.0 L1304.4 297.3 L1304.7 297.6 L1305.0 297.9 L1305.3 298.2 L1305.6 298.5 L1305.9 298.9 L1306.2 299.3 L1306.4 299.7 L1306.5 300.1 L1306.6 300.5 L1306.5 301.0 L1306.4 301.5 L1306.2 302.0 L1305.9 302.4 L1305.6 302.9 L1305.3 303.3 L1305.0 303.7 L1304.6 304.1 L1304.4 304.5 L1304.1 304.8 L1303.9 305.2 L1303.8 305.6 L1303.7 306.0 L1303.7 306.4 L1303.8 306.8 L1303.8 307.3 L1303.9 307.8 L1304.0 308.3 L1304.1 308.9 L1304.2 309.4 L1304.2 309.9 L1304.2 310.4 L1304.1 310.9 L1303.9 311.3 L1303.6 311.7 L1303.3 312.1 L1302.9 312.3 L1302.5 312.5 L1302.1 312.7 L1301.7 312.8 L1301.2 312.9 L1300.8 313.0 L1300.4 313.2 L1300.1 313.3 L1299.8 313.5 L1299.5 313.7 L1299.3 314.0 L1299.1 314.4 L1298.9 314.8 L1298.7 315.3 L1298.6 315.8 L1298.4 316.3 L1298.2 316.9 L1298.0 317.4 L1297.8 317.9 L1297.5 318.3 L1297.2 318.6 L1296.9 318.9 L1296.5 319.0 L1296.1 319.1 L1295.7 319.0 L1295.3 318.9 L1295.0 318.8 L1294.6 318.5 L1294.2 318.3 L1293.8 318.1 L1293.5 317.9 L1293.2 317.7 L1292.9 317.7 L1292.6 317.7 L1292.3 317.8 L1291.9 317.9 L1291.6 318.2 L1291.3 318.5 L1290.9 318.8 L1290.5 319.2 L1290.2 319.5 L1289.8 319.8 L1289.4 320.1 L1289.0 320.2 L1288.6 320.3 L1288.2 320.3 L1287.9 320.1 L1287.6 319.9 L1287.3 319.6 L1287.1 319.2 L1286.9 318.7 L1286.7 318.2 L1286.6 317.7 L1286.4 317.3 L1286.2 316.9 L1286.1 316.5 L1285.9 316.2 L1285.6 316.0 L1285.4 315.8 L1285.1 315.7 L1284.7 315.7 L1284.3 315.7 L1283.9 315.7 L1283.5 315.8 L1283.0 315.8 L1282.6 315.8 L1282.2 315.7 L1281.8 315.5 L1281.5 315.3 L1281.3 315.0 L1281.1 314.6 L1281.0 314.2 L1280.9 313.7 L1281.0 313.2 L1281.0 312.6 L1281.1 312.0 L1281.2 311.5 L1281.3 311.0 L1281.4 310.5 L1281.5 310.0 L1281.5 309.6 L1281.4 309.2 L1281.3 308.9 L1281.1 308.6 L1280.8 308.3 L1280.5 308.0 L1280.2 307.7 L1279.9 307.4 L1279.6 307.1 L1279.3 306.7 L1279.0 306.3 L1278.8 305.9 L1278.7 305.5 L1278.6 305.1 L1278.7 304.6 L1278.8 304.1 L1279.0 303.6 L1279.3 303.2 L1279.6 302.7 L1279.9 302.3 L1280.2 301.9 L1280.6 301.5 L1280.8 301.1 L1281.1 300.8 L1281.3 300.4 L1281.4 300.0 L1281.5 299.6 L1281.5 299.2 L1281.4 298.8 L1281.4 298.3 L1281.3 297.8 L1281.2 297.3 L1281.1 296.7 L1281.0 296.2 L1281.0 295.7 L1281.0 295.2 L1281.1 294.7 L1281.3 294.3 L1281.6 293.9 L1281.9 293.5 L1282.3 293.3 L1282.7 293.1 L1283.1 292.9 L1283.5 292.8 L1284.0 292.7 L1284.4 292.6 L1284.8 292.4 L1285.1 292.3 L1285.4 292.1 L1285.7 291.9 L1285.9 291.6 L1286.1 291.2 L1286.3 290.8 L1286.5 290.3 L1286.6 289.8 L1286.8 289.3 L1287.0 288.7 L1287.2 288.2 L1287.4 287.7 L1287.7 287.3 L1288.0 287.0 L1288.3 286.7 L1288.7 286.6 L1289.1 286.5 L1289.5 286.6 L1289.9 286.7 L1290.2 286.8 L1290.6 287.1 L1291.0 287.3 L1291.4 287.5 L1291.7 287.7 L1292.0 287.9 L1292.3 287.9 L1292.6 287.9 L1292.9 287.8 L1293.3 287.7 L1293.6 287.4 L1293.9 287.1 L1294.3 286.8 L1294.7 286.4 L1295.0 286.1 L1295.4 285.8 L1295.8 285.5 L1296.2 285.4 L1296.6 285.3 L1297.0 285.3Z" stroke-width="2.36" fill="#28296a"/>
<ellipse cx="1293.4" cy="302.9" rx="6.6" ry="9.6" transform="rotate(14 1293.4 302.9)" stroke-width="2.12"/>
<ellipse cx="1291.0" cy="303.0" rx="8.2" ry="11.8" transform="rotate(14 1291.0 303.0)" stroke-width="1.18"/>
<circle cx="1290.9" cy="282.1" r="0.8" fill="#fdef1f" stroke="none"/>
<path d="M1296.4 258.5 L1296.4 285.0" stroke-width="1.89"/>
<g transform="translate(1296.7,255.6) scale(0.88,1)"><text x="0" y="0" font-size="13.8" text-anchor="middle" font-family="Liberation Sans, sans-serif" font-weight="bold" fill="#fdef1f" stroke="#fdef1f" stroke-width="0.3">10</text></g>
<path d="M649.9 414.6 L649.6 418.7 L649.0 422.7 L648.1 426.6 L646.9 430.3 L645.3 433.8 L643.5 437.1 L641.4 440.1 L639.0 442.8 L636.4 445.1 L633.7 447.0 L630.8 448.6 L627.7 449.7 L624.6 450.5 L621.4 450.7 L618.2 450.6 L615.0 450.0 L611.9 449.0 L608.8 447.5 L605.9 445.7 L603.1 443.5 L600.5 440.9 L598.2 438.0 L596.0 434.8 L594.1 431.4 L592.5 427.7 L591.3 423.9 L590.3 419.9 L589.7 415.8 L589.4 411.7 L589.4 407.6 L589.8 403.5 L590.5 399.5 L591.5 395.7 L592.9 392.0 L594.5 388.6 L596.4 385.4 L598.6 382.5 L601.1 380.0 L603.7 377.8 L606.5 376.0 L609.5 374.6 L612.5 373.6 L615.7 373.0 L618.9 372.9 L622.1 373.2 L625.3 373.9 L628.4 375.1 L631.4 376.7 L634.3 378.6 L637.0 381.0 L639.5 383.6 L641.8 386.7 L643.9 389.9 L645.6 393.5 L647.1 397.2 L648.3 401.1 L649.2 405.1" stroke-width="3.30"/>
<path d="M643.7 414.3 L643.5 417.7 L643.0 421.1 L642.3 424.4 L641.3 427.5 L640.1 430.4 L638.7 433.2 L637.0 435.7 L635.2 437.9 L633.1 439.9 L630.9 441.5 L628.6 442.8 L626.2 443.7 L623.7 444.3 L621.2 444.5 L618.7 444.4 L616.1 443.9 L613.6 443.0 L611.2 441.8 L608.9 440.2 L606.6 438.4 L604.6 436.2 L602.7 433.8 L600.9 431.1 L599.4 428.2 L598.2 425.1 L597.1 421.8 L596.3 418.5 L595.8 415.1 L595.5 411.6 L595.6 408.1 L595.8 404.7 L596.4 401.4 L597.2 398.1 L598.3 395.1 L599.6 392.2 L601.1 389.5 L602.8 387.1 L604.7 385.0 L606.8 383.1 L609.0 381.6 L611.4 380.5 L613.8 379.6 L616.3 379.2 L618.9 379.1 L621.4 379.3 L624.0 380.0 L626.4 381.0 L628.8 382.3 L631.1 384.0 L633.3 385.9 L635.3 388.2 L637.2 390.7 L638.8 393.5 L640.2 396.5 L641.4 399.6 L642.4 402.9 L643.1 406.3" stroke-width="3.30"/>
<path d="M649.2 405.1 L643.1 406.3" stroke-width="3.30"/>
<path d="M649.9 414.6 L643.7 414.3" stroke-width="3.30"/>
<path d="M577.7 423.8 L577.0 419.9 L576.8 416.0 L576.8 412.1 L577.2 408.2 L577.9 404.4 L578.9 400.8 L580.2 397.3 L581.8 394.0 L583.7 390.9 L585.8 388.2 L588.2 385.7 L590.8 383.6 L593.5 381.8 L596.4 380.4 L599.4 379.4 L602.5 378.8 L605.6 378.6 L608.8 378.8 L611.9 379.4 L615.0 380.4 L617.9 381.8 L620.8 383.6 L623.5 385.7 L626.0 388.2 L628.3 390.9 L630.4 394.0 L632.2 397.3 L633.8 400.8 L635.0 404.4 L635.9 408.2 L636.6 412.1 L636.8 416.0 L636.8 419.9 L636.4 423.8 L635.7 427.6 L634.7 431.2 L633.4 434.7 L631.8 438.0 L629.9 441.1 L627.8 443.8 L625.4 446.3 L622.8 448.4 L620.1 450.2 L617.2 451.6 L614.2 452.6 L611.1 453.2 L608.0 453.4 L604.8 453.2 L601.7 452.6 L598.6 451.6 L595.7 450.2 L592.8 448.4 L590.1 446.3 L587.6 443.8 L585.3 441.1 L583.2 438.0 L581.4 434.7" stroke-width="3.30"/>
<path d="M583.3 422.5 L582.8 419.2 L582.6 415.9 L582.6 412.6 L582.9 409.3 L583.4 406.1 L584.2 403.0 L585.3 400.1 L586.6 397.3 L588.1 394.7 L589.8 392.4 L591.7 390.3 L593.7 388.5 L596.0 387.0 L598.3 385.9 L600.7 385.0 L603.2 384.5 L605.7 384.4 L608.3 384.5 L610.8 385.1 L613.3 385.9 L615.7 387.1 L618.0 388.6 L620.2 390.5 L622.2 392.5 L624.1 394.9 L625.8 397.5 L627.3 400.3 L628.5 403.2 L629.5 406.3 L630.3 409.5 L630.8 412.8 L631.0 416.1 L631.0 419.4 L630.7 422.7 L630.2 425.9 L629.4 429.0 L628.3 431.9 L627.0 434.7 L625.5 437.3 L623.8 439.6 L621.9 441.7 L619.9 443.5 L617.6 445.0 L615.3 446.1 L612.9 447.0 L610.4 447.5 L607.9 447.6 L605.3 447.5 L602.8 446.9 L600.3 446.1 L597.9 444.9 L595.6 443.4 L593.4 441.5 L591.4 439.5 L589.5 437.1 L587.8 434.5 L586.3 431.7" stroke-width="3.30"/>
<path d="M581.4 434.7 L586.3 431.7" stroke-width="3.30"/>
<path d="M577.7 423.8 L583.3 422.5" stroke-width="3.30"/>
<ellipse cx="591.3" cy="421.0" rx="31.0" ry="37.0" transform="rotate(-5 591.3 421.0)" stroke-width="3.30"/>
<ellipse cx="591.3" cy="421.0" rx="25.4" ry="31.4" transform="rotate(-5 591.3 421.0)" stroke-width="3.30"/>
<path d="M572.9 387.5 L573.2 360.4 L614.7 344.5 L614.7 372.8" stroke-width="2.24"/>
<path d="M595.1 332.4 L595.1 379.5" stroke-width="2.24"/>
<g transform="translate(595.8,327.9) scale(0.88,1)"><text x="0" y="0" font-size="13.8" text-anchor="middle" font-family="Liberation Sans, sans-serif" font-weight="bold" fill="#fdef1f" stroke="#fdef1f" stroke-width="0.3">2</text></g>
<path d="M716.7 338.2 L729.5 327.2 C740 323 750 324.5 759.3 323.3 C766 326 771 329.5 773.5 332.5 L777 338.2 L770.6 346.7 C774 351 775.8 355 775.6 359.5 C776 365 776 369 774.9 373.7 C772.5 381 769 386.5 763.5 390.7 C756 396 749 399 740.8 402 L712 415.5 L690 419.5 L664 380 L690 345 Z" stroke-width="0.00" fill="#28296a"/>
<path d="M716.7 338.2 L729.5 327.2 C740 323 750 324.5 759.3 323.3 C766 326 771 329.5 773.5 332.5 L777 338.2 L770.6 346.7 C774 351 775.8 355 775.6 359.5 C776 365 776 369 774.9 373.7 C772.5 381 769 386.5 763.5 390.7 C756 396 749 399 740.8 402 L716 413" stroke-width="2.60"/>
<path d="M722 333.5 L734 329.5 L727 335.5" stroke-width="1.65"/>
<path d="M704.2 341.4 L706.7 339.6 L709.4 338.1 L712.3 337.0 L715.2 336.4 L718.2 336.1 L721.3 336.3 L724.3 336.9 L727.2 338.0 L730.1 339.4 L732.9 341.2 L735.6 343.3 L738.0 345.8 L740.3 348.6 L742.3 351.7 L744.1 355.0 L745.6 358.6 L746.9 362.3 L747.8 366.1 L748.4 370.0 L748.7 373.9 L748.6 377.8 L748.3 381.6 L747.6 385.3 L746.6 388.9 L745.3 392.3 L743.7 395.5 L741.8 398.4 L739.7 401.0 L737.4 403.3 L734.9 405.2 L732.2 406.8 L729.4 407.9" stroke-width="1.65"/>
<path d="M700.8 341.5 L703.4 339.8 L706.2 338.6 L709.0 337.7 L712.0 337.2 L715.0 337.2 L718.0 337.5 L721.0 338.3 L723.9 339.4 L726.7 341.0 L729.4 342.9 L732.0 345.1 L734.4 347.7 L736.6 350.6 L738.5 353.7 L740.2 357.0 L741.6 360.6 L742.8 364.3 L743.6 368.1 L744.2 371.9 L744.4 375.8 L744.3 379.6 L743.9 383.4 L743.1 387.1 L742.1 390.6 L740.8 394.0 L739.2 397.1 L737.3 400.0 L735.2 402.5 L732.9 404.8 L730.4 406.7 L727.8 408.2 L725.0 409.3" stroke-width="1.65"/>
<ellipse cx="708.5" cy="376.0" rx="28.8" ry="37.2" transform="rotate(-8 708.5 376.0)" stroke-width="2.36" fill="#fdef1f"/>
<path d="M696.4 343.9 L699.5 344.1 L702.6 344.6 L705.6 345.5 L708.6 346.9 L711.4 348.6 L714.2 350.7 L716.7 353.2 L719.0 355.9 L721.1 358.9 L723.0 362.2 L724.5 365.7 L725.8 369.3 L726.8 373.1 L727.4 376.9 L727.7 380.8 L727.7 384.7 L727.4 388.6 L726.7 392.3 L725.7 395.9 L724.4 399.3 L722.8 402.5 L721.0 405.4 L718.8 408.1 L716.5 410.4 L713.9 412.4 L711.2 414.0" stroke="#28296a" stroke-width="1.06"/>
<ellipse cx="692.6" cy="382.4" rx="28.6" ry="36.2" transform="rotate(-8 692.6 382.4)" stroke-width="2.83" fill="#28296a"/>
<ellipse cx="693.6" cy="383.0" rx="23.6" ry="30.0" transform="rotate(-8 693.6 383.0)" stroke-width="2.12"/>
<ellipse cx="694.2" cy="383.4" rx="21.0" ry="26.8" transform="rotate(-8 694.2 383.4)" stroke-width="2.12"/>
<circle cx="724.5" cy="344.6" r="1.4" fill="#fdef1f" stroke="none"/>
<circle cx="731.6" cy="351" r="1.4" fill="#fdef1f" stroke="none"/>
<circle cx="738.7" cy="361.6" r="1.4" fill="#fdef1f" stroke="none"/>
<path d="M742.5 391.5 C744 382 748 374 754 369 L757 371.5 C760 368 764 366.5 767.5 366.5 C768 375 766 383 761 389.5" stroke-width="1.89"/>
<path d="M746.5 388 C746 383 748.5 378.5 751.5 376.5" stroke-width="1.53"/>
<path d="M752 392.5 C755 386 756.5 380 757 373.5" stroke-width="1.53"/>
<path d="M757.5 391 C761.5 385 763.5 378 764 370.5" stroke-width="1.53"/>
<path d="M743.5 394.5 C745.5 389 748 385.5 750.5 385 C750 390 747.5 394 743.5 394.5Z" stroke-width="1.65"/>
<circle cx="755.5" cy="368.6" r="1.5" fill="#fdef1f" stroke="none"/>
<path d="M726.6 298.4 L726.6 329.0" stroke-width="1.77"/>
<g transform="translate(726.4,297) scale(0.88,1)"><text x="0" y="0" font-size="13.8" text-anchor="middle" font-family="Liberation Sans, sans-serif" font-weight="bold" fill="#fdef1f" stroke="#fdef1f" stroke-width="0.3">3</text></g>
<path d="M668.8 336.6 L669.2 336.0 L669.6 335.4 L670.0 334.9 L670.5 334.4 L671.0 334.0 L671.5 333.7 L672.1 333.4 L672.7 333.2 L673.3 333.1 L673.9 333.0 L674.5 333.1 L675.0 333.2 L675.6 333.3 L676.2 333.6 L676.7 333.9 L677.2 334.3 L677.6 334.7 L678.0 335.2 L678.3 335.8 L678.6 336.4 L678.9 337.0 L679.1 337.7 L679.2 338.4 L679.2 339.1 L679.2 339.8 L679.2 340.5 L679.0 341.2 L678.8 341.9 L678.6 342.6 L678.3 343.2 L677.9 343.8 L677.5 344.4 L677.1 344.9 L676.6 345.3 L676.0 345.7 L675.5 346.0 L674.9 346.3 L674.3 346.4 L673.7 346.5 L673.1 346.6 L672.6 346.5 L672.0 346.4 L671.4 346.2 L670.9 345.9 L670.4 345.6 L669.9 345.2 L669.5 344.7" stroke-width="4.01"/>
<path d="M672.7 309.1 L672.7 332.0" stroke-width="1.77"/>
<g transform="translate(673.4,306.3) scale(0.88,1)"><text x="0" y="0" font-size="13.8" text-anchor="middle" font-family="Liberation Sans, sans-serif" font-weight="bold" fill="#fdef1f" stroke="#fdef1f" stroke-width="0.3">5</text></g>
<path d="M874.2 433.1 L874.9 432.8 L875.5 432.6 L876.1 432.5 L876.7 432.5 L877.3 432.6 L877.9 432.8 L878.5 433.0 L879.0 433.4 L879.5 433.8 L879.9 434.3 L880.3 434.9 L880.7 435.5 L881.0 436.2 L881.2 436.9 L881.4 437.7 L881.5 438.5 L881.5 439.4 L881.5 440.2 L881.4 441.1 L881.2 441.9 L881.0 442.8 L880.7 443.6 L880.4 444.3 L880.0 445.1 L879.6 445.8 L879.1 446.4 L878.6 447.0 L878.0 447.5 L877.4 447.9 L876.8 448.2 L876.2 448.5 L875.6 448.6 L875.0 448.7 L874.4 448.7 L873.8 448.6 L873.2 448.4 L872.6 448.1 L872.1 447.8 L871.6 447.3 L871.2 446.8 L870.8 446.2 L870.4 445.6 L870.2 444.9 L869.9 444.1 L869.8 443.3 L869.7 442.5 L869.7 441.7 L869.7 440.8" stroke-width="4.01"/>
<path d="M876.5 408.4 L876.5 431.5" stroke-width="1.77"/>
<g transform="translate(876.5,406.1) scale(0.88,1)"><text x="0" y="0" font-size="13.8" text-anchor="middle" font-family="Liberation Sans, sans-serif" font-weight="bold" fill="#fdef1f" stroke="#fdef1f" stroke-width="0.3">5</text></g>
<path d="M805.7 398.2 C799 396.5 793.5 405 799.1 416.8 L847.4 439.9 L855.4 421.2 Z" stroke-width="0.00" fill="#28296a"/>
<path d="M855.4 421.2 L805.7 398.2 C799 396.5 793.5 406 799.1 416.8 L847.4 439.9" stroke-width="2.60"/>
<ellipse cx="852.8" cy="431.0" rx="7.2" ry="10.2" transform="rotate(17 852.8 431.0)" stroke-width="2.60" fill="#28296a"/>
<ellipse cx="853.2" cy="431.3" rx="4.3" ry="6.9" transform="rotate(17 853.2 431.3)" stroke-width="2.12"/>
<path d="M835.2 386.6 L835.2 412.0" stroke-width="1.77"/>
<g transform="translate(835.2,384) scale(0.88,1)"><text x="0" y="0" font-size="13.8" text-anchor="middle" font-family="Liberation Sans, sans-serif" font-weight="bold" fill="#fdef1f" stroke="#fdef1f" stroke-width="0.3">4</text></g>
<path d="M512.8 496.5 L516 484 L519.4 486.0 L536.4 476.0 L542.0 485.6 L527.8 495.0 L526.2 500.7 Z" stroke-width="0.94" fill="#fdef1f"/>
<text transform="translate(543.2,486.6) rotate(-32)" font-size="16.5" font-family="Liberation Sans, sans-serif" font-weight="bold" fill="#fdef1f" stroke="#fdef1f" stroke-width="1.5" letter-spacing="0.8">FR.</text>
<circle cx="573" cy="493.8" r="1" fill="#9a9a7a" stroke="none"/></g>
</svg>

<div class="t" style="left:234.88px;top:208.50px;font-size:29.6px;letter-spacing:11.225px;-webkit-text-stroke:2.0px #fdef1f;">E-15</div>
<div class="t" style="left:145.16px;top:260.80px;font-size:18.5px;letter-spacing:4.446px;-webkit-text-stroke:0.4px #fdef1f;">Crankshaft-Piston</div>
<div class="t" style="left:168.73px;top:551.00px;font-size:13.8px;letter-spacing:4.163px;transform:scaleX(0.8600);-webkit-text-stroke:0.45px #fdef1f;">Service</div>
<div class="t" style="left:265.75px;top:551.00px;font-size:13.8px;letter-spacing:2.448px;transform:scaleX(0.8600);-webkit-text-stroke:0.45px #fdef1f;">i tern</div>
<div class="t" style="left:168.25px;top:567.80px;font-size:13.8px;letter-spacing:1.258px;transform:scaleX(0.8600);-webkit-text-stroke:0.45px #fdef1f;">Bagian Yang diservis</div>
<div class="t" style="left:387.45px;top:564.20px;font-size:13.8px;letter-spacing:4.153px;transform:scaleX(0.8600);-webkit-text-stroke:0.45px #fdef1f;">F. R. T.</div>
<div class="t" style="left:457.05px;top:549.00px;font-size:15px;letter-spacing:3.480px;transform:scaleX(0.9000);-webkit-text-stroke:0.45px #fdef1f;">Ref.No.</div>
<div class="t" style="left:532.29px;top:552.00px;font-size:13.2px;letter-spacing:6.218px;transform:scaleX(0.8600);-webkit-text-stroke:0.45px #fdef1f;">Part No.</div>
<div class="t" style="left:459.50px;top:564.40px;font-size:13px;letter-spacing:2.736px;transform:scaleX(0.8600);-webkit-text-stroke:0.45px #fdef1f;">Nomor</div>
<div class="t" style="left:532.29px;top:570.90px;font-size:13.2px;letter-spacing:2.075px;transform:scaleX(0.8600);-webkit-text-stroke:0.45px #fdef1f;">Nomor Part</div>
<div class="t" style="left:458.30px;top:579.10px;font-size:13px;letter-spacing:1.449px;transform:scaleX(0.8600);-webkit-text-stroke:0.45px #fdef1f;">Petunjuk</div>
<div class="t" style="left:713.55px;top:553.40px;font-size:13.8px;letter-spacing:5.042px;transform:scaleX(0.8600);-webkit-text-stroke:0.45px #fdef1f;">Description</div>
<div class="t" style="left:714.19px;top:572.10px;font-size:13.2px;letter-spacing:2.255px;transform:scaleX(0.8600);-webkit-text-stroke:0.45px #fdef1f;">Nama - Part</div>
<div class="t" style="left:916.18px;top:549.60px;font-size:11.5px;letter-spacing:3.359px;transform:scaleX(0.8600);-webkit-text-stroke:0.45px #fdef1f;">Reqd. No.</div>
<div class="t" style="left:924.45px;top:559.70px;font-size:13.5px;letter-spacing:1.902px;font-weight:normal;-webkit-text-stroke:0.5px #fdef1f;">Jumlah</div>
<div class="t" style="left:934.50px;top:574.10px;font-size:11.5px;letter-spacing:1.485px;transform:scaleX(0.7000);-webkit-text-stroke:0.45px #fdef1f;">C100</div>
<div class="t" style="left:926.31px;top:586.90px;font-size:10.5px;letter-spacing:2.182px;font-weight:normal;-webkit-text-stroke:0.3px #fdef1f;">K2</div>
<div class="t" style="left:948.14px;top:586.90px;font-size:10.5px;letter-spacing:1.809px;transform:scaleX(0.8500);-webkit-text-stroke:0.45px #fdef1f;">M 2</div>
<div class="t" style="left:1059.03px;top:554.80px;font-size:13.8px;letter-spacing:4.833px;transform:scaleX(0.8600);-webkit-text-stroke:0.45px #fdef1f;">Serial No.</div>
<div class="t" style="left:1059.35px;top:573.50px;font-size:13.8px;letter-spacing:1.688px;transform:scaleX(0.8600);-webkit-text-stroke:0.45px #fdef1f;">Nomor Serie</div>
<div class="t" style="left:1257.85px;top:554.80px;font-size:13.8px;letter-spacing:1.825px;transform:scaleX(0.8600);-webkit-text-stroke:0.45px #fdef1f;">Notes</div>
<div class="t" style="left:1258.15px;top:572.10px;font-size:13.8px;letter-spacing:1.031px;transform:scaleX(0.8600);-webkit-text-stroke:0.45px #fdef1f;">Catatan</div>
<div class="t" style="left:509.26px;top:597.90px;font-size:16.5px;letter-spacing:1.559px;transform:scaleX(0.8400);font-weight:normal;-webkit-text-stroke:1.0px #fdef1f;">13104-GN5-325</div>
<div class="t" style="left:651.20px;top:600.70px;font-size:14px;letter-spacing:6.705px;transform:scaleX(0.8200);-webkit-text-stroke:0.5px #fdef1f;">PISTON</div>
<div class="t" style="left:733.36px;top:600.90px;font-size:14.6px;letter-spacing:4.240px;transform:scaleX(0.8400);font-weight:normal;-webkit-text-stroke:1.0px #fdef1f;">(0.75)</div>
<div class="t" style="left:788.00px;top:600.70px;font-size:14px;letter-spacing:6.845px;transform:scaleX(0.8200);-webkit-text-stroke:0.3px #fdef1f;">.................</div>
<div class="t" style="left:938.76px;top:600.70px;font-size:14px;letter-spacing:0.000px;transform:scaleX(0.8200);-webkit-text-stroke:0.5px #fdef1f;">1</div>
<div class="t" style="left:956.56px;top:600.70px;font-size:14px;letter-spacing:0.000px;transform:scaleX(0.8200);-webkit-text-stroke:0.5px #fdef1f;">1</div>
<div class="t" style="left:651.43px;top:617.00px;font-size:14px;letter-spacing:2.493px;transform:scaleX(0.8200);-webkit-text-stroke:0.5px #fdef1f;">(OPTIONAL PART)</div>
<div class="t" style="left:510.66px;top:629.70px;font-size:16.5px;letter-spacing:1.420px;transform:scaleX(0.8400);font-weight:normal;-webkit-text-stroke:1.0px #fdef1f;">13105-GN5-325</div>
<div class="t" style="left:651.20px;top:632.50px;font-size:14px;letter-spacing:6.705px;transform:scaleX(0.8200);-webkit-text-stroke:0.5px #fdef1f;">PISTON</div>
<div class="t" style="left:733.36px;top:632.70px;font-size:14.6px;letter-spacing:4.240px;transform:scaleX(0.8400);font-weight:normal;-webkit-text-stroke:1.0px #fdef1f;">(1.00)</div>
<div class="t" style="left:788.00px;top:632.50px;font-size:14px;letter-spacing:6.845px;transform:scaleX(0.8200);-webkit-text-stroke:0.3px #fdef1f;">.................</div>
<div class="t" style="left:938.76px;top:632.50px;font-size:14px;letter-spacing:0.000px;transform:scaleX(0.8200);-webkit-text-stroke:0.5px #fdef1f;">1</div>
<div class="t" style="left:956.56px;top:632.50px;font-size:14px;letter-spacing:0.000px;transform:scaleX(0.8200);-webkit-text-stroke:0.5px #fdef1f;">1</div>
<div class="t" style="left:651.43px;top:648.60px;font-size:14px;letter-spacing:2.493px;transform:scaleX(0.8200);-webkit-text-stroke:0.5px #fdef1f;">(OPTIONAL PART)</div>
<div class="t" style="left:482.68px;top:663.30px;font-size:14px;letter-spacing:0.000px;transform:scaleX(0.8200);-webkit-text-stroke:0.5px #fdef1f;">4</div>
<div class="t" style="left:505.56px;top:663.30px;font-size:14px;letter-spacing:4.217px;transform:scaleX(0.8200);-webkit-text-stroke:0.5px #fdef1f;">13111-087-000</div>
<div class="t" style="left:651.20px;top:663.70px;font-size:14px;letter-spacing:4.854px;transform:scaleX(0.8200);-webkit-text-stroke:0.5px #fdef1f;">PIN,</div>
<div class="t" style="left:703.00px;top:663.70px;font-size:14px;letter-spacing:5.729px;transform:scaleX(0.8200);-webkit-text-stroke:0.5px #fdef1f;">PISTON</div>
<div class="t" style="left:773.00px;top:663.70px;font-size:14px;letter-spacing:5.047px;transform:scaleX(0.8200);-webkit-text-stroke:0.3px #fdef1f;">....................</div>
<div class="t" style="left:933.16px;top:663.70px;font-size:14px;letter-spacing:0.000px;transform:scaleX(0.8200);-webkit-text-stroke:0.5px #fdef1f;">1</div>
<div class="t" style="left:956.56px;top:663.70px;font-size:14px;letter-spacing:0.000px;transform:scaleX(0.8200);-webkit-text-stroke:0.5px #fdef1f;">1</div>
<div class="t" style="left:482.51px;top:679.00px;font-size:14px;letter-spacing:0.000px;transform:scaleX(0.8200);-webkit-text-stroke:0.5px #fdef1f;">5</div>
<div class="t" style="left:505.56px;top:679.00px;font-size:14px;letter-spacing:4.152px;transform:scaleX(0.8200);-webkit-text-stroke:0.5px #fdef1f;">13115-001-000</div>
<div class="t" style="left:651.49px;top:679.30px;font-size:14px;letter-spacing:4.610px;transform:scaleX(0.8200);-webkit-text-stroke:0.5px #fdef1f;">CLIP,</div>
<div class="t" style="left:713.00px;top:679.30px;font-size:14px;letter-spacing:5.119px;transform:scaleX(0.8200);-webkit-text-stroke:0.5px #fdef1f;">PISTON</div>
<div class="t" style="left:790.50px;top:679.30px;font-size:14px;letter-spacing:5.781px;transform:scaleX(0.8200);-webkit-text-stroke:0.5px #fdef1f;">PIN</div>
<div class="t" style="left:823.00px;top:679.30px;font-size:14px;letter-spacing:4.894px;transform:scaleX(0.8200);-webkit-text-stroke:0.3px #fdef1f;">..............</div>
<div class="t" style="left:935.91px;top:679.30px;font-size:14px;letter-spacing:0.000px;transform:scaleX(0.8200);-webkit-text-stroke:0.5px #fdef1f;">2</div>
<div class="t" style="left:958.61px;top:679.30px;font-size:14px;letter-spacing:0.000px;transform:scaleX(0.8200);-webkit-text-stroke:0.5px #fdef1f;">2</div>
<div class="t" style="left:482.95px;top:711.20px;font-size:14px;letter-spacing:0.000px;transform:scaleX(0.8200);-webkit-text-stroke:0.5px #fdef1f;">6</div>
<div class="t" style="left:503.06px;top:711.20px;font-size:14px;letter-spacing:2.612px;transform:scaleX(0.8200);-webkit-text-stroke:0.5px #fdef1f;">13201</div>
<div class="t" style="left:553.95px;top:709.50px;font-size:16.5px;letter-spacing:1.793px;transform:scaleX(0.8400);font-weight:normal;-webkit-text-stroke:1.0px #fdef1f;">-GF6-300</div>
<div class="t" style="left:651.20px;top:710.90px;font-size:14px;letter-spacing:3.483px;transform:scaleX(0.8200);-webkit-text-stroke:0.5px #fdef1f;">ROD,</div>
<div class="t" style="left:707.09px;top:710.90px;font-size:14px;letter-spacing:4.167px;transform:scaleX(0.8200);-webkit-text-stroke:0.5px #fdef1f;">CONNECTING</div>
<div class="t" style="left:818.60px;top:710.90px;font-size:14px;letter-spacing:4.894px;transform:scaleX(0.8200);-webkit-text-stroke:0.3px #fdef1f;">..............</div>
<div class="t" style="left:933.16px;top:710.90px;font-size:14px;letter-spacing:0.000px;transform:scaleX(0.8200);-webkit-text-stroke:0.5px #fdef1f;">1</div>
<div class="t" style="left:956.56px;top:710.90px;font-size:14px;letter-spacing:0.000px;transform:scaleX(0.8200);-webkit-text-stroke:0.5px #fdef1f;">1</div>
<div class="t" style="left:482.89px;top:727.00px;font-size:14px;letter-spacing:0.000px;transform:scaleX(0.8200);-webkit-text-stroke:0.5px #fdef1f;">7</div>
<div class="t" style="left:508.86px;top:725.10px;font-size:16.5px;letter-spacing:1.542px;transform:scaleX(0.8400);font-weight:normal;-webkit-text-stroke:1.0px #fdef1f;">13310-GN5-910</div>
<div class="t" style="left:651.49px;top:727.60px;font-size:14px;letter-spacing:2.861px;transform:scaleX(0.8200);-webkit-text-stroke:0.5px #fdef1f;">CRANKSHAFT</div>
<div class="t" style="left:768.99px;top:727.60px;font-size:14px;letter-spacing:3.425px;transform:scaleX(0.8200);-webkit-text-stroke:0.5px #fdef1f;">COMP.,</div>
<div class="t" style="left:837.60px;top:727.60px;font-size:14px;letter-spacing:0.000px;transform:scaleX(0.8200);-webkit-text-stroke:0.5px #fdef1f;">R</div>
<div class="t" style="left:850.80px;top:727.60px;font-size:14px;letter-spacing:3.676px;transform:scaleX(0.8200);-webkit-text-stroke:0.3px #fdef1f;">..........</div>
<div class="t" style="left:924.06px;top:727.80px;font-size:14.6px;letter-spacing:4.779px;transform:scaleX(0.8400);font-weight:normal;-webkit-text-stroke:1.0px #fdef1f;">(1)(1)</div>
<div class="t" style="left:483.01px;top:743.50px;font-size:14px;letter-spacing:0.000px;transform:scaleX(0.8200);-webkit-text-stroke:0.5px #fdef1f;">8</div>
<div class="t" style="left:503.06px;top:743.50px;font-size:14px;letter-spacing:2.612px;transform:scaleX(0.8200);-webkit-text-stroke:0.5px #fdef1f;">13321</div>
<div class="t" style="left:553.95px;top:741.80px;font-size:16.5px;letter-spacing:1.531px;transform:scaleX(0.8400);font-weight:normal;-webkit-text-stroke:1.0px #fdef1f;">-GN5-910</div>
<div class="t" style="left:651.49px;top:743.60px;font-size:14px;letter-spacing:4.293px;transform:scaleX(0.8200);-webkit-text-stroke:0.5px #fdef1f;">CRANKSHAET,</div>
<div class="t" style="left:786.90px;top:743.60px;font-size:14px;letter-spacing:0.000px;transform:scaleX(0.8200);-webkit-text-stroke:0.5px #fdef1f;">L</div>
<div class="t" style="left:798.00px;top:743.60px;font-size:14px;letter-spacing:4.942px;transform:scaleX(0.8200);-webkit-text-stroke:0.3px #fdef1f;">................</div>
<div class="t" style="left:922.46px;top:743.80px;font-size:14.6px;letter-spacing:5.160px;transform:scaleX(0.8400);font-weight:normal;-webkit-text-stroke:1.0px #fdef1f;">(1)(1)</div>
<div class="t" style="left:483.01px;top:758.80px;font-size:14px;letter-spacing:0.000px;transform:scaleX(0.8200);-webkit-text-stroke:0.5px #fdef1f;">9</div>
<div class="t" style="left:502.16px;top:758.80px;font-size:14px;letter-spacing:3.130px;transform:scaleX(0.8200);-webkit-text-stroke:0.5px #fdef1f;">13381</div>
<div class="t" style="left:555.35px;top:756.80px;font-size:16.5px;letter-spacing:1.555px;transform:scaleX(0.8400);font-weight:normal;-webkit-text-stroke:1.0px #fdef1f;">-GF6-300</div>
<div class="t" style="left:651.20px;top:759.20px;font-size:14px;letter-spacing:4.854px;transform:scaleX(0.8200);-webkit-text-stroke:0.5px #fdef1f;">PIN,</div>
<div class="t" style="left:703.09px;top:759.20px;font-size:14px;letter-spacing:5.210px;transform:scaleX(0.8200);-webkit-text-stroke:0.5px #fdef1f;">CRANK</div>
<div class="t" style="left:766.30px;top:759.20px;font-size:14px;letter-spacing:4.585px;transform:scaleX(0.8200);-webkit-text-stroke:0.3px #fdef1f;">......................</div>
<div class="t" style="left:934.16px;top:759.20px;font-size:14px;letter-spacing:0.000px;transform:scaleX(0.8200);-webkit-text-stroke:0.5px #fdef1f;">1</div>
<div class="t" style="left:956.56px;top:759.20px;font-size:14px;letter-spacing:0.000px;transform:scaleX(0.8200);-webkit-text-stroke:0.5px #fdef1f;">1</div>
<div class="t" style="left:474.96px;top:774.50px;font-size:14px;letter-spacing:4.920px;transform:scaleX(0.8200);-webkit-text-stroke:0.5px #fdef1f;">10</div>
<div class="t" style="left:505.56px;top:774.50px;font-size:14px;letter-spacing:4.152px;transform:scaleX(0.8200);-webkit-text-stroke:0.5px #fdef1f;">14311-035-000</div>
<div class="t" style="left:651.66px;top:774.80px;font-size:14px;letter-spacing:3.964px;transform:scaleX(0.8200);-webkit-text-stroke:0.5px #fdef1f;">SPROCKET,</div>
<div class="t" style="left:760.84px;top:774.80px;font-size:14px;letter-spacing:4.123px;transform:scaleX(0.8200);-webkit-text-stroke:0.5px #fdef1f;">TIMING</div>
<div class="t" style="left:828.36px;top:775.00px;font-size:14.6px;letter-spacing:3.645px;transform:scaleX(0.8400);font-weight:normal;-webkit-text-stroke:1.0px #fdef1f;">(14T)</div>
<div class="t" style="left:875.30px;top:774.80px;font-size:14px;letter-spacing:7.179px;transform:scaleX(0.8200);-webkit-text-stroke:0.3px #fdef1f;">........</div>
<div class="t" style="left:946.56px;top:774.80px;font-size:14px;letter-spacing:0.000px;transform:scaleX(0.8200);-webkit-text-stroke:0.5px #fdef1f;">1</div>
<div class="t" style="left:956.56px;top:774.80px;font-size:14px;letter-spacing:0.000px;transform:scaleX(0.8200);-webkit-text-stroke:0.5px #fdef1f;">1</div>
<div class="t" style="left:475.56px;top:806.60px;font-size:14px;letter-spacing:3.723px;transform:scaleX(0.8200);-webkit-text-stroke:0.5px #fdef1f;">11</div>
<div class="t" style="left:505.11px;top:806.60px;font-size:14px;letter-spacing:4.094px;transform:scaleX(0.8200);-webkit-text-stroke:0.5px #fdef1f;">90741-003-010</div>
<div class="t" style="left:650.70px;top:808.00px;font-size:14px;letter-spacing:4.246px;transform:scaleX(0.8200);-webkit-text-stroke:0.5px #fdef1f;">KEY,</div>
<div class="t" style="left:700.85px;top:808.00px;font-size:14px;letter-spacing:3.615px;transform:scaleX(0.8200);-webkit-text-stroke:0.5px #fdef1f;">WOODRUFF,</div>
<div class="t" style="left:805.45px;top:808.20px;font-size:14.6px;letter-spacing:-0.864px;transform:scaleX(0.8400);font-weight:normal;-webkit-text-stroke:1.0px #fdef1f;">4MM</div>
<div class="t" style="left:834.10px;top:808.00px;font-size:14px;letter-spacing:6.083px;transform:scaleX(0.8200);-webkit-text-stroke:0.3px #fdef1f;">.............</div>
<div class="t" style="left:941.96px;top:808.00px;font-size:14px;letter-spacing:0.000px;transform:scaleX(0.8200);-webkit-text-stroke:0.5px #fdef1f;">1</div>
<div class="t" style="left:956.56px;top:808.00px;font-size:14px;letter-spacing:0.000px;transform:scaleX(0.8200);-webkit-text-stroke:0.5px #fdef1f;">1</div>
<div class="t" style="left:475.56px;top:823.00px;font-size:14px;letter-spacing:2.115px;transform:scaleX(0.8200);-webkit-text-stroke:0.5px #fdef1f;">12</div>
<div class="t" style="left:500.51px;top:823.00px;font-size:14px;letter-spacing:2.999px;transform:scaleX(0.8200);-webkit-text-stroke:0.5px #fdef1f;">96100 - 63040</div>
<div class="t" style="left:650.70px;top:824.00px;font-size:14px;letter-spacing:3.578px;transform:scaleX(0.8200);-webkit-text-stroke:0.5px #fdef1f;">BEARING,</div>
<div class="t" style="left:740.60px;top:824.00px;font-size:14px;letter-spacing:3.556px;transform:scaleX(0.8200);-webkit-text-stroke:0.5px #fdef1f;">RADIAL</div>
<div class="t" style="left:811.80px;top:824.00px;font-size:14px;letter-spacing:3.772px;transform:scaleX(0.8200);-webkit-text-stroke:0.5px #fdef1f;">BALL,</div>
<div class="t" style="left:868.49px;top:824.20px;font-size:14.6px;letter-spacing:2.401px;transform:scaleX(0.8400);font-weight:normal;-webkit-text-stroke:1.0px #fdef1f;">6304</div>
<div class="t" style="left:907.60px;top:824.00px;font-size:14px;letter-spacing:6.125px;transform:scaleX(0.8200);-webkit-text-stroke:0.3px #fdef1f;">....</div>
<div class="t" style="left:942.61px;top:824.00px;font-size:14px;letter-spacing:0.000px;transform:scaleX(0.8200);-webkit-text-stroke:0.5px #fdef1f;">2</div>
<div class="t" style="left:958.21px;top:824.00px;font-size:14px;letter-spacing:0.000px;transform:scaleX(0.8200);-webkit-text-stroke:0.5px #fdef1f;">2</div>
<div class="t" style="left:475.56px;top:839.00px;font-size:14px;letter-spacing:2.527px;transform:scaleX(0.8200);-webkit-text-stroke:0.5px #fdef1f;">1 3</div>
<div class="t" style="left:508.98px;top:837.20px;font-size:16.5px;letter-spacing:1.842px;transform:scaleX(0.8400);font-weight:normal;-webkit-text-stroke:1.0px #fdef1f;">91101-GF6-003</div>
<div class="t" style="left:650.70px;top:839.60px;font-size:14px;letter-spacing:3.073px;transform:scaleX(0.8200);-webkit-text-stroke:0.5px #fdef1f;">BEARING,</div>
<div class="t" style="left:735.99px;top:839.60px;font-size:14px;letter-spacing:2.893px;transform:scaleX(0.8200);-webkit-text-stroke:0.5px #fdef1f;">CONNECTING</div>
<div class="t" style="left:847.40px;top:839.60px;font-size:14px;letter-spacing:2.233px;transform:scaleX(0.8200);-webkit-text-stroke:0.5px #fdef1f;">ROD</div>
<div class="t" style="left:887.26px;top:839.80px;font-size:14.6px;letter-spacing:2.585px;transform:scaleX(0.8400);font-weight:normal;-webkit-text-stroke:1.0px #fdef1f;">(RED)</div>
<div class="t" style="left:932.90px;top:839.60px;font-size:14px;letter-spacing:0.000px;transform:scaleX(0.8200);-webkit-text-stroke:0.5px #fdef1f;">.</div>
<div class="t" style="left:942.26px;top:839.60px;font-size:14px;letter-spacing:0.000px;transform:scaleX(0.8200);-webkit-text-stroke:0.5px #fdef1f;">1</div>
<div class="t" style="left:956.56px;top:839.60px;font-size:14px;letter-spacing:0.000px;transform:scaleX(0.8200);-webkit-text-stroke:0.5px #fdef1f;">1</div>
<div class="t" style="left:859.82px;top:859.40px;font-size:12.5px;letter-spacing:0.810px;font-weight:normal;-webkit-text-stroke:0.35px #fdef1f;">(MERAH)</div>
<div class="t" style="left:509.68px;top:871.30px;font-size:16.5px;letter-spacing:1.862px;transform:scaleX(0.8400);font-weight:normal;-webkit-text-stroke:1.0px #fdef1f;">91102-GF6-003</div>
<div class="t" style="left:651.20px;top:872.10px;font-size:14px;letter-spacing:1.436px;transform:scaleX(0.8200);-webkit-text-stroke:0.5px #fdef1f;">BEARING,</div>
<div class="t" style="left:726.69px;top:872.10px;font-size:14px;letter-spacing:1.200px;transform:scaleX(0.8200);-webkit-text-stroke:0.5px #fdef1f;">CONNECTING</div>
<div class="t" style="left:824.30px;top:872.10px;font-size:14px;letter-spacing:1.380px;transform:scaleX(0.8200);-webkit-text-stroke:0.5px #fdef1f;">ROD</div>
<div class="t" style="left:933.16px;top:872.10px;font-size:14px;letter-spacing:0.000px;transform:scaleX(0.8200);-webkit-text-stroke:0.5px #fdef1f;">1</div>
<div class="t" style="left:958.76px;top:872.10px;font-size:14px;letter-spacing:0.000px;transform:scaleX(0.8200);-webkit-text-stroke:0.5px #fdef1f;">1</div>
<div class="t" style="left:509.68px;top:886.40px;font-size:16.5px;letter-spacing:1.862px;transform:scaleX(0.8400);font-weight:normal;-webkit-text-stroke:1.0px #fdef1f;">91102-GF6-003</div>
<div class="t" style="left:651.20px;top:885.90px;font-size:14px;letter-spacing:1.436px;transform:scaleX(0.8200);-webkit-text-stroke:0.5px #fdef1f;">BEARING,</div>
<div class="t" style="left:726.69px;top:885.90px;font-size:14px;letter-spacing:1.200px;transform:scaleX(0.8200);-webkit-text-stroke:0.5px #fdef1f;">CONNECTING</div>
<div class="t" style="left:824.30px;top:885.90px;font-size:14px;letter-spacing:1.380px;transform:scaleX(0.8200);-webkit-text-stroke:0.5px #fdef1f;">ROD</div>
<div class="t" style="left:862.36px;top:886.00px;font-size:14.6px;letter-spacing:2.296px;transform:scaleX(0.8400);font-weight:normal;-webkit-text-stroke:1.0px #fdef1f;">(BLUE)</div>
<div class="t" style="left:933.16px;top:885.90px;font-size:14px;letter-spacing:0.000px;transform:scaleX(0.8200);-webkit-text-stroke:0.5px #fdef1f;">1</div>
<div class="t" style="left:958.76px;top:885.90px;font-size:14px;letter-spacing:0.000px;transform:scaleX(0.8200);-webkit-text-stroke:0.5px #fdef1f;">1</div>
<div class="t" style="left:864.69px;top:902.90px;font-size:13px;letter-spacing:0.393px;font-weight:normal;-webkit-text-stroke:0.35px #fdef1f;">(BIRU)</div>
<div class="t" style="left:514.78px;top:924.20px;font-size:16.5px;letter-spacing:1.822px;transform:scaleX(0.8400);font-weight:normal;-webkit-text-stroke:1.0px #fdef1f;">91103-GF6-003</div>
<div class="t" style="left:656.22px;top:926.70px;font-size:11px;letter-spacing:1.417px;transform:scaleX(0.8500);-webkit-text-stroke:0.45px #fdef1f;">BEARING,</div>
<div class="t" style="left:717.79px;top:924.20px;font-size:14px;letter-spacing:2.351px;transform:scaleX(0.8200);-webkit-text-stroke:0.5px #fdef1f;">CONNECTING</div>
<div class="t" style="left:826.50px;top:924.20px;font-size:14px;letter-spacing:2.111px;transform:scaleX(0.8200);-webkit-text-stroke:0.5px #fdef1f;">ROD</div>
<div class="t" style="left:860.12px;top:941.30px;font-size:12.5px;letter-spacing:0.000px;transform:scaleX(0.8907);-webkit-text-stroke:0.45px #fdef1f;">(WHITE)</div>
<div class="t" style="left:954.06px;top:937.50px;font-size:14px;letter-spacing:4.455px;transform:scaleX(0.8200);-webkit-text-stroke:0.5px #fdef1f;">11</div>
<div class="t" style="left:862.02px;top:958.00px;font-size:12.5px;letter-spacing:1.233px;font-weight:normal;-webkit-text-stroke:0.35px #fdef1f;">(PUTIH)</div>
<div class="t" style="left:596.97px;top:1064.40px;font-size:12.5px;letter-spacing:3.629px;transform:scaleX(0.8800);-webkit-text-stroke:0.45px #fdef1f;">1991.02.01</div>
<div class="t" style="left:798.99px;top:1064.40px;font-size:12.5px;letter-spacing:0.000px;transform:scaleX(0.7633);font-weight:normal;-webkit-text-stroke:0.3px #fdef1f;">E</div>
<div class="t" style="left:913.21px;top:1064.40px;font-size:12.5px;letter-spacing:3.946px;transform:scaleX(0.8800);-webkit-text-stroke:0.45px #fdef1f;">E-15</div>
<div class="t" style="left:1098.21px;top:619.70px;font-size:10.8px;letter-spacing:-0.122px;transform:scaleX(0.9000);-webkit-text-stroke:0.7px #fdef1f;">Selection</div>
<div class="t" style="left:1149.05px;top:619.70px;font-size:10.8px;letter-spacing:-0.682px;transform:scaleX(0.9000);-webkit-text-stroke:0.7px #fdef1f;">tableof</div>
<div class="t" style="left:1183.71px;top:619.70px;font-size:10.8px;letter-spacing:-0.205px;transform:scaleX(0.9000);-webkit-text-stroke:0.7px #fdef1f;">connecting</div>
<div class="t" style="left:1240.22px;top:619.70px;font-size:10.8px;letter-spacing:-0.159px;transform:scaleX(0.9000);-webkit-text-stroke:0.7px #fdef1f;">rod</div>
<div class="t" style="left:1261.12px;top:619.70px;font-size:10.8px;letter-spacing:-0.118px;transform:scaleX(0.9000);-webkit-text-stroke:0.7px #fdef1f;">bearing</div>
<div class="t" style="left:1261.31px;top:634.50px;font-size:10.8px;letter-spacing:1.035px;transform:scaleX(0.9000);-webkit-text-stroke:0.7px #fdef1f;">(Radial</div>
<div class="t" style="left:1304.01px;top:634.50px;font-size:10.8px;letter-spacing:-0.168px;transform:scaleX(0.9000);-webkit-text-stroke:0.7px #fdef1f;">clearance</div>
<div class="t" style="left:1350.11px;top:634.50px;font-size:10.8px;letter-spacing:1.764px;transform:scaleX(0.9000);-webkit-text-stroke:0.7px #fdef1f;">0~8µm)</div>
<div class="t" style="left:1098.06px;top:648.70px;font-size:16px;letter-spacing:0.655px;transform:scaleX(0.9000);font-weight:normal;-webkit-text-stroke:0.5px #fdef1f;">Tabel</div>
<div class="t" style="left:1141.80px;top:649.90px;font-size:13.5px;letter-spacing:1.231px;transform:scaleX(0.8600);-webkit-text-stroke:0.5px #fdef1f;">pemilihan</div>
<div class="t" style="left:1213.70px;top:649.90px;font-size:13.5px;letter-spacing:1.250px;transform:scaleX(0.8600);-webkit-text-stroke:0.5px #fdef1f;">bantalan</div>
<div class="t" style="left:1278.20px;top:649.90px;font-size:13.5px;letter-spacing:1.294px;transform:scaleX(0.8600);-webkit-text-stroke:0.5px #fdef1f;">batang</div>
<div class="t" style="left:1330.43px;top:647.50px;font-size:16px;letter-spacing:0.224px;transform:scaleX(0.9200);font-weight:normal;-webkit-text-stroke:0.5px #fdef1f;">torak</div>
<div class="t" style="left:1179.03px;top:667.00px;font-size:13.5px;letter-spacing:1.433px;transform:scaleX(0.8600);-webkit-text-stroke:0.5px #fdef1f;">(Toleransi</div>
<div class="t" style="left:1253.40px;top:667.00px;font-size:13.5px;letter-spacing:1.644px;transform:scaleX(0.8600);-webkit-text-stroke:0.5px #fdef1f;">radial</div>
<div class="t" style="left:1299.84px;top:667.00px;font-size:13.5px;letter-spacing:3.749px;transform:scaleX(0.8600);-webkit-text-stroke:0.5px #fdef1f;">0-</div>
<div class="t" style="left:1319.98px;top:665.00px;font-size:15.5px;letter-spacing:1.313px;transform:scaleX(0.9200);font-weight:normal;-webkit-text-stroke:0.5px #fdef1f;">8µm)</div>
<div class="t" style="left:1197.49px;top:477.80px;font-size:12px;letter-spacing:2.175px;transform:scaleX(0.8500);-webkit-text-stroke:0.4px #fdef1f;opacity:0.92;">GN51-E1500</div>
<div class="t" style="left:1027.08px;top:695.90px;font-size:7.8px;letter-spacing:0.540px;transform:scaleX(0.9500);font-weight:normal;-webkit-text-stroke:0.5px #fdef1f;">Connecting rod</div>
<div class="t" style="left:1035.64px;top:707.90px;font-size:7.6px;letter-spacing:1.529px;transform:scaleX(0.9500);-webkit-text-stroke:0.35px #fdef1f;">1 0  30  10</div>
<div class="t" style="left:1005.58px;top:726.00px;font-size:7.8px;letter-spacing:0.462px;transform:scaleX(0.9500);font-weight:normal;-webkit-text-stroke:0.5px #fdef1f;">Crank pin</div>
<div class="t" style="left:1005.62px;top:737.40px;font-size:7.6px;letter-spacing:1.825px;transform:scaleX(0.9500);-webkit-text-stroke:0.35px #fdef1f;">0 0  25  10</div>
<div class="t" style="left:1107.37px;top:702.60px;font-size:6.5px;letter-spacing:0.000px;transform:scaleX(0.9500);-webkit-text-stroke:0.35px #fdef1f;">F</div>
<div class="t" style="left:1150.62px;top:701.80px;font-size:8px;letter-spacing:0.000px;transform:scaleX(0.9500);-webkit-text-stroke:0.35px #fdef1f;">A</div>
<div class="t" style="left:1181.73px;top:697.20px;font-size:7.8px;letter-spacing:1.404px;transform:scaleX(0.9500);-webkit-text-stroke:0.35px #fdef1f;">+0,001</div>
<div class="t" style="left:1194.05px;top:704.60px;font-size:6px;letter-spacing:0.000px;transform:scaleX(0.9500);-webkit-text-stroke:0.35px #fdef1f;opacity:0.9;">B</div>
<div class="t" style="left:1225.03px;top:697.35px;font-size:7.8px;letter-spacing:1.420px;transform:scaleX(0.9500);-webkit-text-stroke:0.35px #fdef1f;">+0,003</div>
<div class="t" style="left:1237.50px;top:704.60px;font-size:6px;letter-spacing:0.000px;transform:scaleX(0.9500);-webkit-text-stroke:0.35px #fdef1f;opacity:0.9;">C</div>
<div class="t" style="left:1268.33px;top:697.50px;font-size:7.8px;letter-spacing:1.099px;transform:scaleX(0.9500);-webkit-text-stroke:0.35px #fdef1f;">+ -,005</div>
<div class="t" style="left:1280.65px;top:704.60px;font-size:6px;letter-spacing:0.000px;transform:scaleX(0.9500);-webkit-text-stroke:0.35px #fdef1f;opacity:0.9;">D</div>
<div class="t" style="left:1311.68px;top:697.65px;font-size:7.8px;letter-spacing:1.428px;transform:scaleX(0.9500);-webkit-text-stroke:0.35px #fdef1f;">+0,007</div>
<div class="t" style="left:1324.00px;top:704.60px;font-size:6px;letter-spacing:0.000px;transform:scaleX(0.9500);-webkit-text-stroke:0.35px #fdef1f;opacity:0.9;">E</div>
<div class="t" style="left:1367.37px;top:703.80px;font-size:6.5px;letter-spacing:0.000px;transform:scaleX(0.9500);-webkit-text-stroke:0.35px #fdef1f;">F</div>
<div class="t" style="left:1094.77px;top:726.10px;font-size:7.8px;letter-spacing:1.830px;transform:scaleX(0.9500);-webkit-text-stroke:0.35px #fdef1f;">-0 001</div>
<div class="t" style="left:1101.17px;top:737.50px;font-size:7.8px;letter-spacing:1.272px;transform:scaleX(0.9500);-webkit-text-stroke:0.35px #fdef1f;">0 003</div>
<div class="t" style="left:1138.08px;top:726.22px;font-size:7.8px;letter-spacing:1.446px;transform:scaleX(0.9500);-webkit-text-stroke:0.35px #fdef1f;">+0 001</div>
<div class="t" style="left:1138.12px;top:737.62px;font-size:7.8px;letter-spacing:1.830px;transform:scaleX(0.9500);-webkit-text-stroke:0.35px #fdef1f;">-0 001</div>
<div class="t" style="left:1181.43px;top:726.34px;font-size:7.8px;letter-spacing:1.462px;transform:scaleX(0.9500);-webkit-text-stroke:0.35px #fdef1f;">+0 003</div>
<div class="t" style="left:1181.43px;top:737.74px;font-size:7.8px;letter-spacing:1.446px;transform:scaleX(0.9500);-webkit-text-stroke:0.35px #fdef1f;">+0 001</div>
<div class="t" style="left:1224.73px;top:726.46px;font-size:7.8px;letter-spacing:1.446px;transform:scaleX(0.9500);-webkit-text-stroke:0.35px #fdef1f;">+0 005</div>
<div class="t" style="left:1224.73px;top:737.86px;font-size:7.8px;letter-spacing:1.462px;transform:scaleX(0.9500);-webkit-text-stroke:0.35px #fdef1f;">+0 003</div>
<div class="t" style="left:1268.03px;top:726.58px;font-size:7.8px;letter-spacing:1.470px;transform:scaleX(0.9500);-webkit-text-stroke:0.35px #fdef1f;">+0 007</div>
<div class="t" style="left:1268.03px;top:737.98px;font-size:7.8px;letter-spacing:1.446px;transform:scaleX(0.9500);-webkit-text-stroke:0.35px #fdef1f;">+0 005</div>
<div class="t" style="left:1311.38px;top:726.70px;font-size:7.8px;letter-spacing:1.462px;transform:scaleX(0.9500);-webkit-text-stroke:0.35px #fdef1f;">+0,009</div>
<div class="t" style="left:1311.38px;top:738.10px;font-size:7.8px;letter-spacing:1.470px;transform:scaleX(0.9500);-webkit-text-stroke:0.35px #fdef1f;">+0 007</div>
<div class="t" style="left:1354.73px;top:726.82px;font-size:7.8px;letter-spacing:1.532px;transform:scaleX(0.9500);-webkit-text-stroke:0.35px #fdef1f;">+0 011</div>
<div class="t" style="left:1354.73px;top:738.22px;font-size:7.8px;letter-spacing:1.462px;transform:scaleX(0.9500);-webkit-text-stroke:0.35px #fdef1f;">+0 009</div>
<div class="t" style="left:1020.93px;top:761.60px;font-size:7px;letter-spacing:0.000px;transform:scaleX(0.9500);-webkit-text-stroke:0.35px #fdef1f;opacity:0.9;">1</div>
<div class="t" style="left:1012.47px;top:773.40px;font-size:6px;letter-spacing:1.208px;transform:scaleX(0.9500);font-weight:normal;-webkit-text-stroke:0.2px #fdef1f;opacity:0.45;">Green</div>
<div class="t" style="left:1008.20px;top:783.40px;font-size:6.4px;letter-spacing:1.162px;transform:scaleX(0.9500);-webkit-text-stroke:0.35px #fdef1f;opacity:0.95;">(HIJAU)</div>
<div class="t" style="left:1052.27px;top:762.30px;font-size:7.8px;letter-spacing:1.577px;transform:scaleX(0.9500);-webkit-text-stroke:0.35px #fdef1f;opacity:0.95;">-0 001</div>
<div class="t" style="left:1052.23px;top:773.70px;font-size:7.8px;letter-spacing:1.194px;transform:scaleX(0.9500);-webkit-text-stroke:0.35px #fdef1f;opacity:0.95;">+0 001</div>
<div class="t" style="left:1021.13px;top:803.30px;font-size:7px;letter-spacing:0.000px;transform:scaleX(0.9500);-webkit-text-stroke:0.35px #fdef1f;opacity:0.7;">2</div>
<div class="t" style="left:1010.64px;top:815.10px;font-size:6px;letter-spacing:1.606px;transform:scaleX(0.9500);font-weight:normal;-webkit-text-stroke:0.2px #fdef1f;opacity:0.45;">Yellow</div>
<div class="t" style="left:1006.15px;top:825.10px;font-size:6.4px;letter-spacing:0.750px;transform:scaleX(0.9500);-webkit-text-stroke:0.35px #fdef1f;opacity:0.8;">(KUNING)</div>
<div class="t" style="left:1052.23px;top:804.00px;font-size:7.8px;letter-spacing:1.194px;transform:scaleX(0.9500);-webkit-text-stroke:0.35px #fdef1f;opacity:0.95;">+0 001</div>
<div class="t" style="left:1052.23px;top:815.40px;font-size:7.8px;letter-spacing:1.209px;transform:scaleX(0.9500);-webkit-text-stroke:0.35px #fdef1f;opacity:0.7;">+0 003</div>
<div class="t" style="left:1021.19px;top:844.70px;font-size:7px;letter-spacing:0.000px;transform:scaleX(0.9500);-webkit-text-stroke:0.35px #fdef1f;opacity:0.7;">3</div>
<div class="t" style="left:1012.75px;top:856.50px;font-size:6px;letter-spacing:1.438px;transform:scaleX(0.9500);font-weight:normal;-webkit-text-stroke:0.2px #fdef1f;opacity:0.45;">White</div>
<div class="t" style="left:1008.20px;top:866.50px;font-size:6.4px;letter-spacing:1.162px;transform:scaleX(0.9500);-webkit-text-stroke:0.35px #fdef1f;opacity:0.8;">(PUTIH)</div>
<div class="t" style="left:1052.23px;top:845.40px;font-size:7.8px;letter-spacing:1.209px;transform:scaleX(0.9500);-webkit-text-stroke:0.35px #fdef1f;opacity:0.95;">+0 003</div>
<div class="t" style="left:1052.23px;top:856.80px;font-size:7.8px;letter-spacing:1.194px;transform:scaleX(0.9500);-webkit-text-stroke:0.35px #fdef1f;opacity:0.95;">+0 005</div>
<div class="t" style="left:1021.23px;top:886.40px;font-size:7px;letter-spacing:0.000px;transform:scaleX(0.9500);-webkit-text-stroke:0.35px #fdef1f;opacity:0.7;">4</div>
<div class="t" style="left:1014.29px;top:898.20px;font-size:6px;letter-spacing:1.783px;transform:scaleX(0.9500);font-weight:normal;-webkit-text-stroke:0.2px #fdef1f;opacity:0.45;">Blue</div>
<div class="t" style="left:1010.25px;top:908.20px;font-size:6.4px;letter-spacing:1.243px;transform:scaleX(0.9500);-webkit-text-stroke:0.35px #fdef1f;opacity:0.8;">(BIRU)</div>
<div class="t" style="left:1052.23px;top:887.10px;font-size:7.8px;letter-spacing:1.194px;transform:scaleX(0.9500);-webkit-text-stroke:0.35px #fdef1f;opacity:0.95;">+0 005</div>
<div class="t" style="left:1052.23px;top:898.50px;font-size:7.8px;letter-spacing:1.217px;transform:scaleX(0.9500);-webkit-text-stroke:0.35px #fdef1f;opacity:0.95;">+0 007</div>
<div class="t" style="left:1021.13px;top:928.00px;font-size:7px;letter-spacing:0.000px;transform:scaleX(0.9500);-webkit-text-stroke:0.35px #fdef1f;opacity:0.7;">5</div>
<div class="t" style="left:1008.41px;top:939.80px;font-size:6px;letter-spacing:1.495px;transform:scaleX(0.9500);font-weight:normal;-webkit-text-stroke:0.2px #fdef1f;opacity:0.45;">(Brown)</div>
<div class="t" style="left:1006.15px;top:949.80px;font-size:6.4px;letter-spacing:0.615px;transform:scaleX(0.9500);-webkit-text-stroke:0.35px #fdef1f;opacity:0.95;">(COKLAT)</div>
<div class="t" style="left:1052.23px;top:928.70px;font-size:7.8px;letter-spacing:1.217px;transform:scaleX(0.9500);-webkit-text-stroke:0.35px #fdef1f;opacity:0.95;">+0 007</div>
<div class="t" style="left:1052.23px;top:940.10px;font-size:7.8px;letter-spacing:1.209px;transform:scaleX(0.9500);-webkit-text-stroke:0.35px #fdef1f;opacity:0.95;">+0 009</div>
<div class="t" style="left:1093.95px;top:756.72px;font-size:7.8px;letter-spacing:1.301px;transform:scaleX(0.9500);-webkit-text-stroke:0.35px #fdef1f;">91102</div>
<div class="t" style="left:1092.68px;top:767.92px;font-size:7.8px;letter-spacing:0.802px;transform:scaleX(0.9500);-webkit-text-stroke:0.35px #fdef1f;opacity:0.95;">GF6-003</div>
<div class="t" style="left:1092.67px;top:779.32px;font-size:7.2px;letter-spacing:0.402px;transform:scaleX(0.9500);-webkit-text-stroke:0.35px #fdef1f;">(Blue)</div>
<div class="t" style="left:1180.65px;top:756.96px;font-size:7.8px;letter-spacing:1.281px;transform:scaleX(0.9500);-webkit-text-stroke:0.35px #fdef1f;">91101</div>
<div class="t" style="left:1179.38px;top:768.16px;font-size:7.8px;letter-spacing:0.874px;transform:scaleX(0.9500);-webkit-text-stroke:0.35px #fdef1f;opacity:0.95;">GF6 003</div>
<div class="t" style="left:1179.37px;top:779.56px;font-size:7.2px;letter-spacing:0.081px;transform:scaleX(0.9500);-webkit-text-stroke:0.35px #fdef1f;">(Red)</div>
<div class="t" style="left:1137.25px;top:798.54px;font-size:7.8px;letter-spacing:1.301px;transform:scaleX(0.9500);-webkit-text-stroke:0.35px #fdef1f;">91102</div>
<div class="t" style="left:1135.98px;top:809.74px;font-size:7.8px;letter-spacing:0.802px;transform:scaleX(0.9500);-webkit-text-stroke:0.35px #fdef1f;opacity:0.95;">GF6-003</div>
<div class="t" style="left:1135.97px;top:821.14px;font-size:7.2px;letter-spacing:0.402px;transform:scaleX(0.9500);-webkit-text-stroke:0.35px #fdef1f;">(Blue)</div>
<div class="t" style="left:1223.95px;top:798.78px;font-size:7.8px;letter-spacing:1.577px;transform:scaleX(0.9500);-webkit-text-stroke:0.35px #fdef1f;">91101-</div>
<div class="t" style="left:1222.68px;top:809.98px;font-size:7.8px;letter-spacing:0.802px;transform:scaleX(0.9500);-webkit-text-stroke:0.35px #fdef1f;opacity:0.95;">GF6-003</div>
<div class="t" style="left:1222.67px;top:821.38px;font-size:7.2px;letter-spacing:0.081px;transform:scaleX(0.9500);-webkit-text-stroke:0.35px #fdef1f;">(Red)</div>
<div class="t" style="left:1093.95px;top:839.82px;font-size:7.8px;letter-spacing:1.301px;transform:scaleX(0.9500);-webkit-text-stroke:0.35px #fdef1f;">91103</div>
<div class="t" style="left:1092.68px;top:851.02px;font-size:7.8px;letter-spacing:0.802px;transform:scaleX(0.9500);-webkit-text-stroke:0.35px #fdef1f;opacity:0.95;">GF6-003</div>
<div class="t" style="left:1092.67px;top:862.42px;font-size:7.2px;letter-spacing:0.283px;transform:scaleX(0.9500);-webkit-text-stroke:0.35px #fdef1f;">(White)</div>
<div class="t" style="left:1180.65px;top:840.06px;font-size:7.8px;letter-spacing:1.301px;transform:scaleX(0.9500);-webkit-text-stroke:0.35px #fdef1f;">91102</div>
<div class="t" style="left:1179.38px;top:851.26px;font-size:7.8px;letter-spacing:0.802px;transform:scaleX(0.9500);-webkit-text-stroke:0.35px #fdef1f;opacity:0.95;">GF6-003</div>
<div class="t" style="left:1179.37px;top:862.66px;font-size:7.2px;letter-spacing:0.402px;transform:scaleX(0.9500);-webkit-text-stroke:0.35px #fdef1f;">(Blue)</div>
<div class="t" style="left:1267.25px;top:840.30px;font-size:7.8px;letter-spacing:1.577px;transform:scaleX(0.9500);-webkit-text-stroke:0.35px #fdef1f;">91101-</div>
<div class="t" style="left:1265.98px;top:851.50px;font-size:7.8px;letter-spacing:0.802px;transform:scaleX(0.9500);-webkit-text-stroke:0.35px #fdef1f;opacity:0.95;">GF6-003</div>
<div class="t" style="left:1265.97px;top:862.90px;font-size:7.2px;letter-spacing:0.081px;transform:scaleX(0.9500);-webkit-text-stroke:0.35px #fdef1f;">(Red)</div>
<div class="t" style="left:1137.25px;top:881.64px;font-size:7.8px;letter-spacing:1.577px;transform:scaleX(0.9500);-webkit-text-stroke:0.35px #fdef1f;">91103-</div>
<div class="t" style="left:1135.98px;top:892.84px;font-size:7.8px;letter-spacing:0.802px;transform:scaleX(0.9500);-webkit-text-stroke:0.35px #fdef1f;opacity:0.76;">GF6-003</div>
<div class="t" style="left:1135.97px;top:904.24px;font-size:7.2px;letter-spacing:0.283px;transform:scaleX(0.9500);-webkit-text-stroke:0.35px #fdef1f;opacity:0.8;">(White)</div>
<div class="t" style="left:1223.95px;top:881.88px;font-size:7.8px;letter-spacing:1.577px;transform:scaleX(0.9500);-webkit-text-stroke:0.35px #fdef1f;">91102-</div>
<div class="t" style="left:1222.68px;top:893.08px;font-size:7.8px;letter-spacing:0.802px;transform:scaleX(0.9500);-webkit-text-stroke:0.35px #fdef1f;opacity:0.76;">GF6-003</div>
<div class="t" style="left:1222.67px;top:904.48px;font-size:7.2px;letter-spacing:0.402px;transform:scaleX(0.9500);-webkit-text-stroke:0.35px #fdef1f;opacity:0.8;">(Blue)</div>
<div class="t" style="left:1310.55px;top:882.12px;font-size:7.8px;letter-spacing:1.577px;transform:scaleX(0.9500);-webkit-text-stroke:0.35px #fdef1f;">91101-</div>
<div class="t" style="left:1309.28px;top:893.32px;font-size:7.8px;letter-spacing:0.802px;transform:scaleX(0.9500);-webkit-text-stroke:0.35px #fdef1f;opacity:0.76;">GF6-003</div>
<div class="t" style="left:1309.27px;top:904.72px;font-size:7.2px;letter-spacing:0.081px;transform:scaleX(0.9500);-webkit-text-stroke:0.35px #fdef1f;opacity:0.8;">(Red)</div>
<div class="t" style="left:1353.95px;top:923.84px;font-size:7.8px;letter-spacing:1.577px;transform:scaleX(0.9500);-webkit-text-stroke:0.35px #fdef1f;">91101-</div>
<div class="t" style="left:1352.68px;top:935.04px;font-size:7.8px;letter-spacing:0.874px;transform:scaleX(0.9500);-webkit-text-stroke:0.35px #fdef1f;opacity:0.95;">GF6 003</div>
<div class="t" style="left:1352.67px;top:946.44px;font-size:7.2px;letter-spacing:0.081px;transform:scaleX(0.9500);-webkit-text-stroke:0.35px #fdef1f;">(Red)</div>
</div>
</body></html>
